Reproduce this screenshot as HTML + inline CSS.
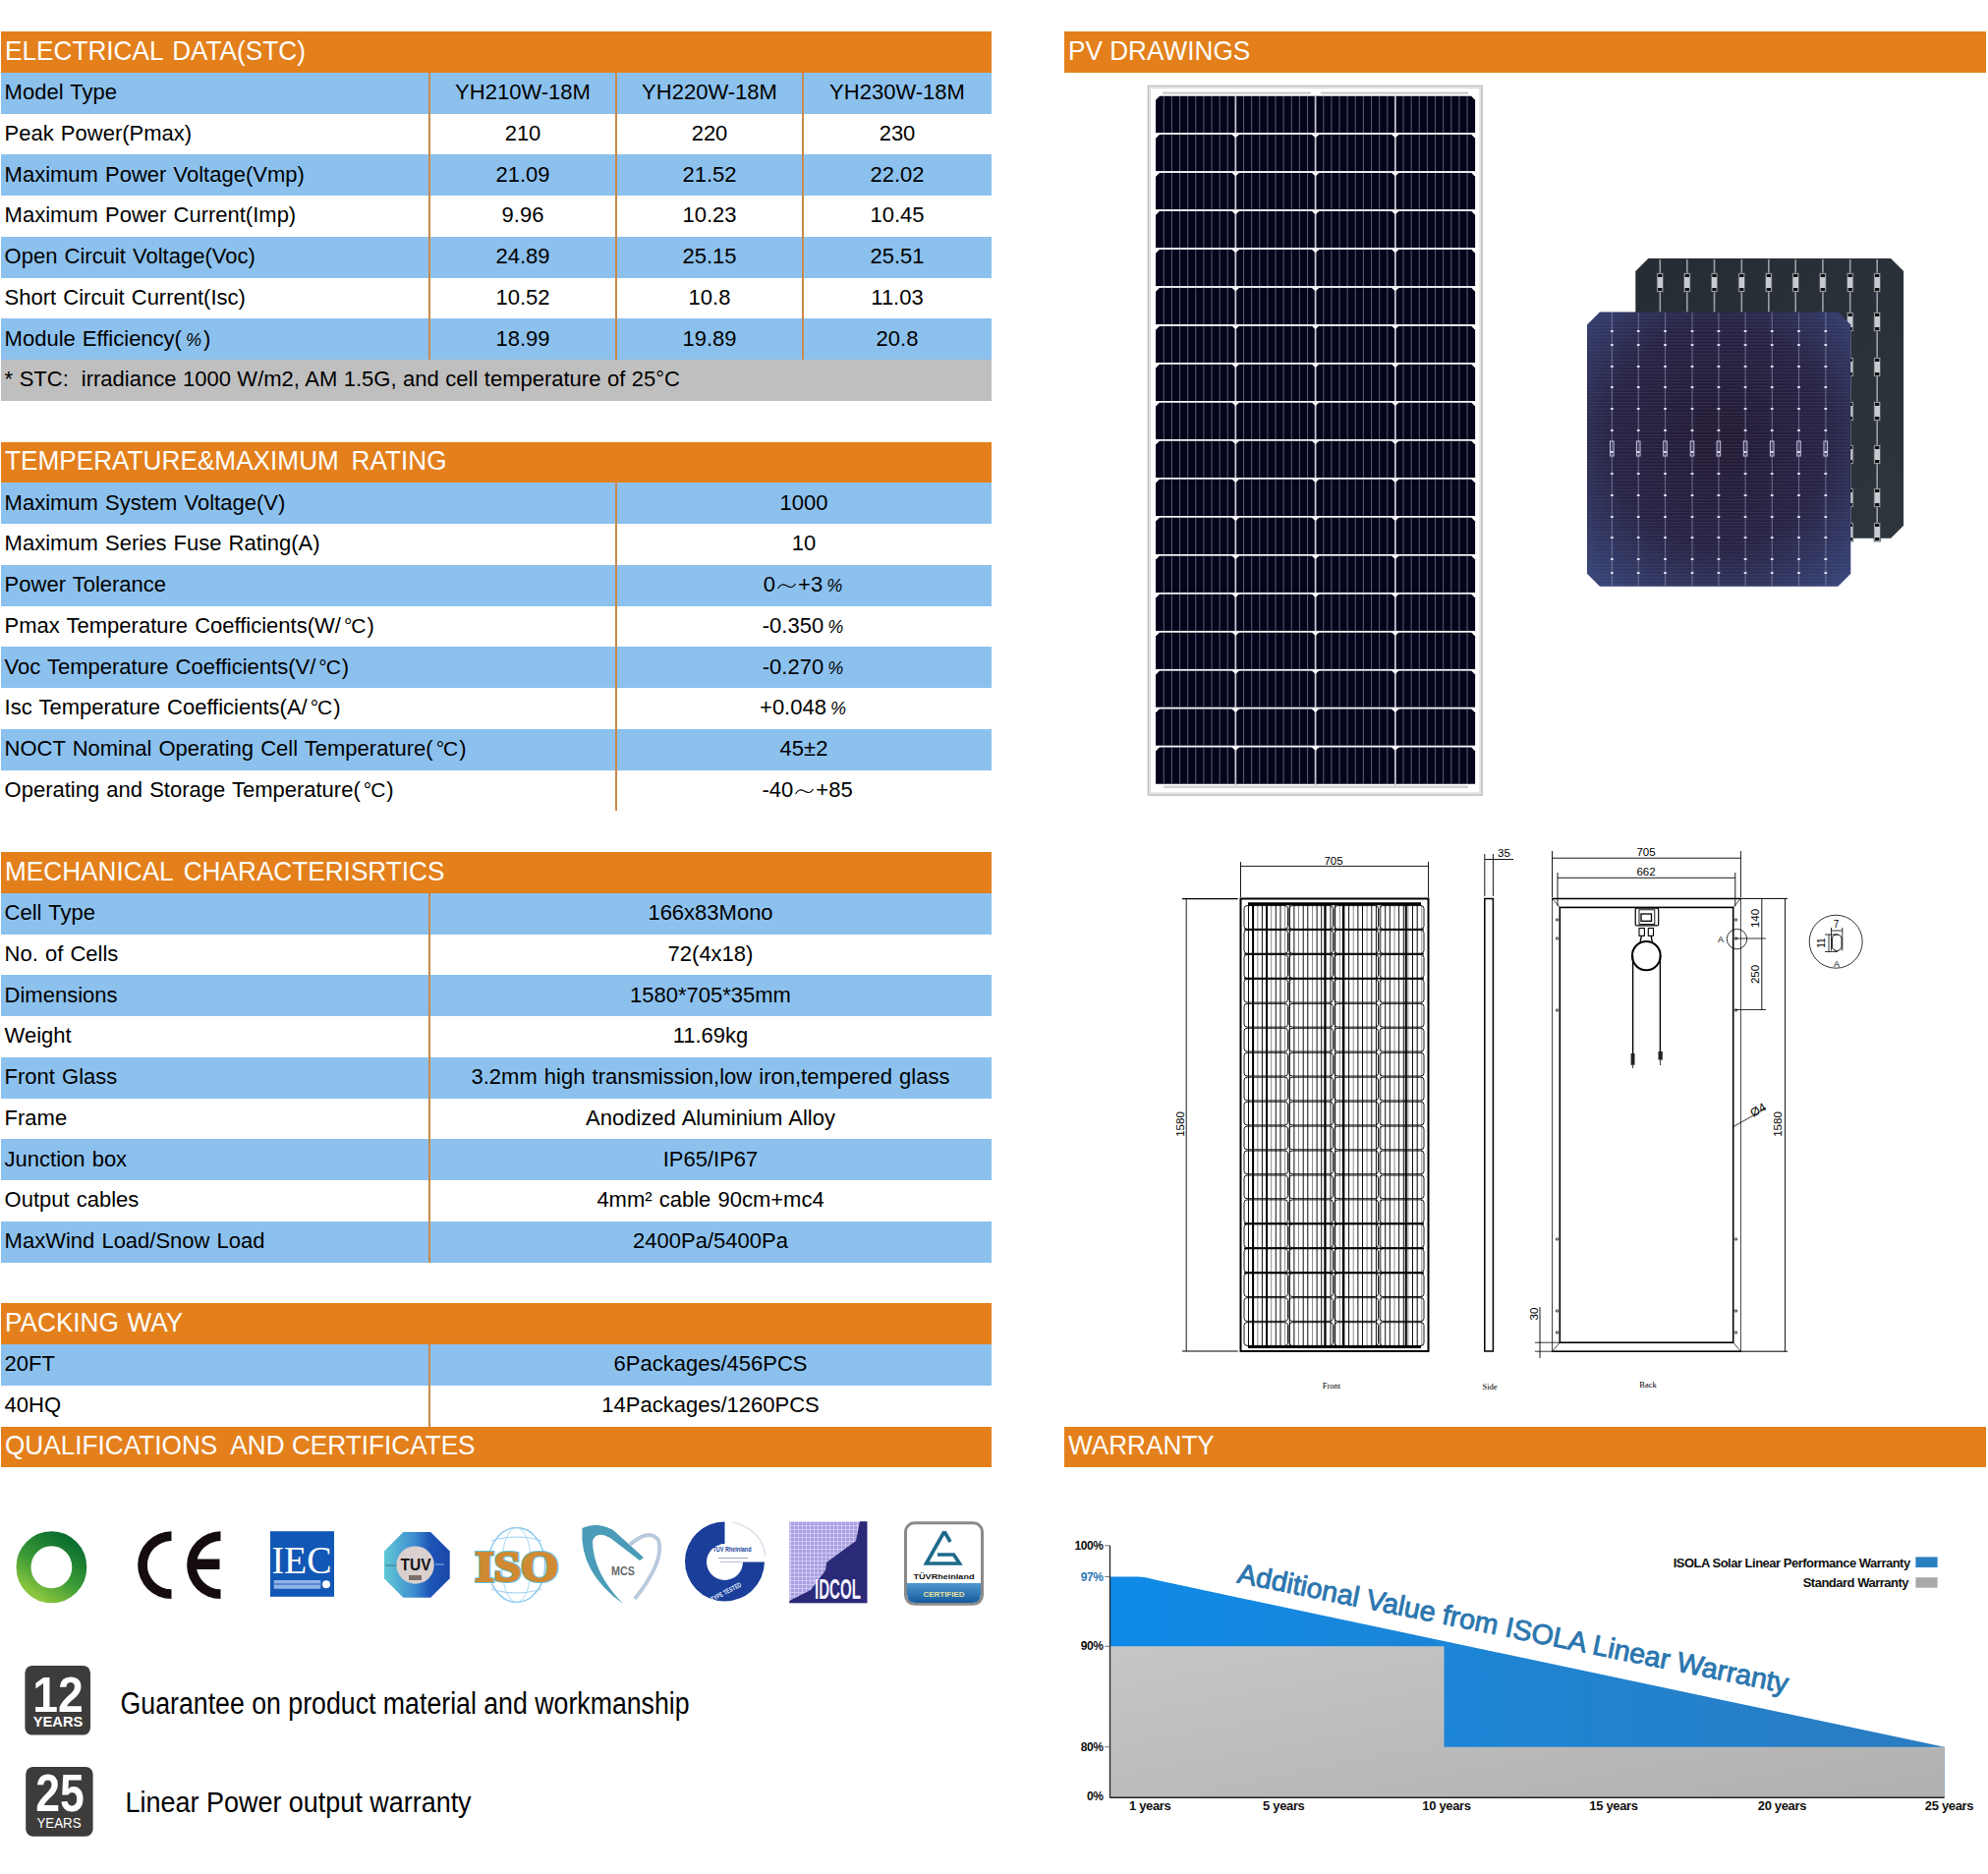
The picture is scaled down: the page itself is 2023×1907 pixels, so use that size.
<!DOCTYPE html>
<html><head><meta charset="utf-8"><title>Datasheet</title>
<style>
html,body{margin:0;padding:0;background:#fff;}
body{width:2023px;height:1907px;position:relative;overflow:hidden;font-family:"Liberation Sans",sans-serif;}
.r{position:absolute;}
.h{position:absolute;font-size:28px;line-height:41.75px;color:#fff;white-space:pre;transform:scaleX(0.935);transform-origin:0 0;}
.t{position:absolute;font-size:22px;line-height:41.75px;color:#000;white-space:pre;word-spacing:1px;}
.c{text-align:center;}
.pc{font-size:18px;font-style:italic;padding:0 3px 0 4px;letter-spacing:-1px;}
.dc{font-size:21px;padding:0 2px 0 3px;letter-spacing:-1px;}
.tl{font-size:20px;}
svg{position:absolute;}
svg.wv{position:static;vertical-align:1px;margin:0 1px;}
</style></head><body>
<div class="r" style="left:1.00px;top:32.00px;width:1008.00px;height:41.75px;background:#e3801c"></div>
<div class="h" style="left:4.60px;top:30.60px;word-spacing:2.5px">ELECTRICAL DATA(STC)</div>
<div class="r" style="left:1.00px;top:73.75px;width:1008.00px;height:41.75px;background:#8cc1ee"></div>
<div class="t" style="left:4.60px;top:73.05px">Model Type</div>
<div class="t c" style="left:437.00px;top:73.05px;width:190.00px">YH210W-18M</div>
<div class="t c" style="left:627.00px;top:73.05px;width:190.00px">YH220W-18M</div>
<div class="t c" style="left:817.00px;top:73.05px;width:192.00px">YH230W-18M</div>
<div class="t" style="left:4.60px;top:114.80px">Peak Power(Pmax)</div>
<div class="t c" style="left:437.00px;top:114.80px;width:190.00px">210</div>
<div class="t c" style="left:627.00px;top:114.80px;width:190.00px">220</div>
<div class="t c" style="left:817.00px;top:114.80px;width:192.00px">230</div>
<div class="r" style="left:1.00px;top:157.25px;width:1008.00px;height:41.75px;background:#8cc1ee"></div>
<div class="t" style="left:4.60px;top:156.55px">Maximum Power Voltage(Vmp)</div>
<div class="t c" style="left:437.00px;top:156.55px;width:190.00px">21.09</div>
<div class="t c" style="left:627.00px;top:156.55px;width:190.00px">21.52</div>
<div class="t c" style="left:817.00px;top:156.55px;width:192.00px">22.02</div>
<div class="t" style="left:4.60px;top:198.30px">Maximum Power Current(Imp)</div>
<div class="t c" style="left:437.00px;top:198.30px;width:190.00px">9.96</div>
<div class="t c" style="left:627.00px;top:198.30px;width:190.00px">10.23</div>
<div class="t c" style="left:817.00px;top:198.30px;width:192.00px">10.45</div>
<div class="r" style="left:1.00px;top:240.75px;width:1008.00px;height:41.75px;background:#8cc1ee"></div>
<div class="t" style="left:4.60px;top:240.05px">Open Circuit Voltage(Voc)</div>
<div class="t c" style="left:437.00px;top:240.05px;width:190.00px">24.89</div>
<div class="t c" style="left:627.00px;top:240.05px;width:190.00px">25.15</div>
<div class="t c" style="left:817.00px;top:240.05px;width:192.00px">25.51</div>
<div class="t" style="left:4.60px;top:281.80px">Short Circuit Current(Isc)</div>
<div class="t c" style="left:437.00px;top:281.80px;width:190.00px">10.52</div>
<div class="t c" style="left:627.00px;top:281.80px;width:190.00px">10.8</div>
<div class="t c" style="left:817.00px;top:281.80px;width:192.00px">11.03</div>
<div class="r" style="left:1.00px;top:324.25px;width:1008.00px;height:41.75px;background:#8cc1ee"></div>
<div class="t" style="left:4.60px;top:323.55px">Module Efficiency(<span class="pc">%</span>)</div>
<div class="t c" style="left:437.00px;top:323.55px;width:190.00px">18.99</div>
<div class="t c" style="left:627.00px;top:323.55px;width:190.00px">19.89</div>
<div class="t c" style="left:817.00px;top:323.55px;width:192.00px">20.8</div>
<div class="r" style="left:1.00px;top:366.00px;width:1008.00px;height:41.75px;background:#bfbfbf"></div>
<div class="t" style="left:4.60px;top:365.30px"><span style="word-spacing:0.4px">* STC:&nbsp; irradiance 1000 W/m2, AM 1.5G, and cell temperature of 25°C</span></div>
<div class="r" style="left:436.00px;top:73.75px;width:2px;height:292.25px;background:#c68a4a"></div>
<div class="r" style="left:626.00px;top:73.75px;width:2px;height:292.25px;background:#c68a4a"></div>
<div class="r" style="left:816.00px;top:73.75px;width:2px;height:292.25px;background:#c68a4a"></div>
<div class="r" style="left:1.00px;top:449.50px;width:1008.00px;height:41.75px;background:#e3801c"></div>
<div class="h" style="left:4.60px;top:448.10px;word-spacing:-1px">TEMPERATURE&amp;MAXIMUM&nbsp; RATING</div>
<div class="r" style="left:1.00px;top:491.25px;width:1008.00px;height:41.75px;background:#8cc1ee"></div>
<div class="t" style="left:4.60px;top:490.55px">Maximum System Voltage(V)</div>
<div class="t c" style="left:627.00px;top:490.55px;width:382.00px">1000</div>
<div class="t" style="left:4.60px;top:532.30px">Maximum Series Fuse Rating(A)</div>
<div class="t c" style="left:627.00px;top:532.30px;width:382.00px">10</div>
<div class="r" style="left:1.00px;top:574.75px;width:1008.00px;height:41.75px;background:#8cc1ee"></div>
<div class="t" style="left:4.60px;top:574.05px">Power Tolerance</div>
<div class="t c" style="left:627.00px;top:574.05px;width:382.00px">0<svg class="wv" width="21" height="10" viewBox="0 0 21 10"><path d="M1.5 8 C4 3.5 7 3 10.5 5 S17 7.5 19.5 3" fill="none" stroke="#000" stroke-width="1.1"/></svg>+3<span class="pc">%</span></div>
<div class="t" style="left:4.60px;top:615.80px">Pmax Temperature Coefficients(W/<span class="dc">°C</span>)</div>
<div class="t c" style="left:627.00px;top:615.80px;width:382.00px">-0.350<span class="pc">%</span></div>
<div class="r" style="left:1.00px;top:658.25px;width:1008.00px;height:41.75px;background:#8cc1ee"></div>
<div class="t" style="left:4.60px;top:657.55px">Voc Temperature Coefficients(V/<span class="dc">°C</span>)</div>
<div class="t c" style="left:627.00px;top:657.55px;width:382.00px">-0.270<span class="pc">%</span></div>
<div class="t" style="left:4.60px;top:699.30px">Isc Temperature Coefficients(A/<span class="dc">°C</span>)</div>
<div class="t c" style="left:627.00px;top:699.30px;width:382.00px">+0.048<span class="pc">%</span></div>
<div class="r" style="left:1.00px;top:741.75px;width:1008.00px;height:41.75px;background:#8cc1ee"></div>
<div class="t" style="left:4.60px;top:741.05px">NOCT Nominal Operating Cell Temperature(<span class="dc">°C</span>)</div>
<div class="t c" style="left:627.00px;top:741.05px;width:382.00px">45±2</div>
<div class="t" style="left:4.60px;top:782.80px">Operating and Storage Temperature(<span class="dc">°C</span>)</div>
<div class="t c" style="left:627.00px;top:782.80px;width:382.00px">&nbsp;-40<svg class="wv" width="21" height="10" viewBox="0 0 21 10"><path d="M1.5 8 C4 3.5 7 3 10.5 5 S17 7.5 19.5 3" fill="none" stroke="#000" stroke-width="1.1"/></svg>+85</div>
<div class="r" style="left:626.00px;top:491.25px;width:2px;height:334.00px;background:#c68a4a"></div>
<div class="r" style="left:1.00px;top:867.00px;width:1008.00px;height:41.75px;background:#e3801c"></div>
<div class="h" style="left:4.60px;top:865.60px;word-spacing:4px">MECHANICAL CHARACTERISRTICS</div>
<div class="r" style="left:1.00px;top:908.75px;width:1008.00px;height:41.75px;background:#8cc1ee"></div>
<div class="t" style="left:4.60px;top:908.05px">Cell Type</div>
<div class="t c" style="left:437.00px;top:908.05px;width:572.00px">166x83Mono</div>
<div class="t" style="left:4.60px;top:949.80px">No. of Cells</div>
<div class="t c" style="left:437.00px;top:949.80px;width:572.00px">72(4x18)</div>
<div class="r" style="left:1.00px;top:992.25px;width:1008.00px;height:41.75px;background:#8cc1ee"></div>
<div class="t" style="left:4.60px;top:991.55px">Dimensions</div>
<div class="t c" style="left:437.00px;top:991.55px;width:572.00px">1580*705*35mm</div>
<div class="t" style="left:4.60px;top:1033.30px">Weight</div>
<div class="t c" style="left:437.00px;top:1033.30px;width:572.00px">11.69kg</div>
<div class="r" style="left:1.00px;top:1075.75px;width:1008.00px;height:41.75px;background:#8cc1ee"></div>
<div class="t" style="left:4.60px;top:1075.05px">Front Glass</div>
<div class="t c" style="left:437.00px;top:1075.05px;width:572.00px">3.2mm high transmission,low iron,tempered glass</div>
<div class="t" style="left:4.60px;top:1116.80px">Frame</div>
<div class="t c" style="left:437.00px;top:1116.80px;width:572.00px">Anodized Aluminium Alloy</div>
<div class="r" style="left:1.00px;top:1159.25px;width:1008.00px;height:41.75px;background:#8cc1ee"></div>
<div class="t" style="left:4.60px;top:1158.55px">Junction box</div>
<div class="t c" style="left:437.00px;top:1158.55px;width:572.00px">IP65/IP67</div>
<div class="t" style="left:4.60px;top:1200.30px">Output cables</div>
<div class="t c" style="left:437.00px;top:1200.30px;width:572.00px">4mm² cable 90cm+mc4</div>
<div class="r" style="left:1.00px;top:1242.75px;width:1008.00px;height:41.75px;background:#8cc1ee"></div>
<div class="t" style="left:4.60px;top:1242.05px">MaxWind Load/Snow Load</div>
<div class="t c" style="left:437.00px;top:1242.05px;width:572.00px">2400Pa/5400Pa</div>
<div class="r" style="left:436.00px;top:908.75px;width:2px;height:375.75px;background:#c68a4a"></div>
<div class="r" style="left:1.00px;top:1326.25px;width:1008.00px;height:41.75px;background:#e3801c"></div>
<div class="h" style="left:4.60px;top:1324.85px;word-spacing:1.5px">PACKING WAY</div>
<div class="r" style="left:1.00px;top:1368.00px;width:1008.00px;height:41.75px;background:#8cc1ee"></div>
<div class="t" style="left:4.60px;top:1367.30px">20FT</div>
<div class="t c" style="left:437.00px;top:1367.30px;width:572.00px">6Packages/456PCS</div>
<div class="t" style="left:4.60px;top:1409.05px">40HQ</div>
<div class="t c" style="left:437.00px;top:1409.05px;width:572.00px">14Packages/1260PCS</div>
<div class="r" style="left:436.00px;top:1368.00px;width:2px;height:83.50px;background:#c68a4a"></div>
<div class="r" style="left:1.00px;top:1451.50px;width:1008.00px;height:41.75px;background:#e3801c"></div>
<div class="h" style="left:4.60px;top:1450.10px;word-spacing:0px">QUALIFICATIONS&nbsp; AND CERTIFICATES</div>
<div class="r" style="left:1083.00px;top:32.00px;width:938.00px;height:41.75px;background:#e3801c"></div>
<div class="h" style="left:1086.60px;top:30.60px;word-spacing:0px">PV DRAWINGS</div>
<div class="r" style="left:1083.00px;top:1451.50px;width:938.00px;height:41.75px;background:#e3801c"></div>
<div class="h" style="left:1086.60px;top:1450.10px;word-spacing:0px">WARRANTY</div>
<svg style="left:0;top:0" width="2023" height="1907" viewBox="0 0 2023 1907"><rect x="1168.5" y="87.5" width="339.5" height="721.5" fill="#fff" stroke="#bdbdbd" stroke-width="1.6"/><rect x="1170.4" y="89.5" width="335.7" height="717.5" fill="none" stroke="#d6d6d6" stroke-width="1.2"/><rect x="1183" y="93.5" width="151" height="2.5" fill="#cfcfcf"/><rect x="1344" y="93.5" width="150" height="2.5" fill="#cfcfcf"/><rect x="1184" y="799.5" width="310" height="2.5" fill="#d2d2d2"/><defs><g id="prow"><path d="M0 37.47 V4 L4 0 H321.00 L325.00 4 V37.47 Z" fill="#03031a"/><rect x="7.62" y="0" width="1.1" height="37.47" fill="#56566e"/><rect x="15.75" y="0" width="1.1" height="37.47" fill="#56566e"/><rect x="23.88" y="0" width="1.1" height="37.47" fill="#56566e"/><rect x="32.00" y="0" width="1.1" height="37.47" fill="#56566e"/><rect x="40.12" y="0" width="1.1" height="37.47" fill="#56566e"/><rect x="48.25" y="0" width="1.1" height="37.47" fill="#56566e"/><rect x="56.38" y="0" width="1.1" height="37.47" fill="#56566e"/><rect x="64.50" y="0" width="1.1" height="37.47" fill="#56566e"/><rect x="72.62" y="0" width="1.1" height="37.47" fill="#56566e"/><rect x="88.88" y="0" width="1.1" height="37.47" fill="#56566e"/><rect x="97.00" y="0" width="1.1" height="37.47" fill="#56566e"/><rect x="105.12" y="0" width="1.1" height="37.47" fill="#56566e"/><rect x="113.25" y="0" width="1.1" height="37.47" fill="#56566e"/><rect x="121.38" y="0" width="1.1" height="37.47" fill="#56566e"/><rect x="129.50" y="0" width="1.1" height="37.47" fill="#56566e"/><rect x="137.62" y="0" width="1.1" height="37.47" fill="#56566e"/><rect x="145.75" y="0" width="1.1" height="37.47" fill="#56566e"/><rect x="153.88" y="0" width="1.1" height="37.47" fill="#56566e"/><rect x="170.12" y="0" width="1.1" height="37.47" fill="#56566e"/><rect x="178.25" y="0" width="1.1" height="37.47" fill="#56566e"/><rect x="186.38" y="0" width="1.1" height="37.47" fill="#56566e"/><rect x="194.50" y="0" width="1.1" height="37.47" fill="#56566e"/><rect x="202.62" y="0" width="1.1" height="37.47" fill="#56566e"/><rect x="210.75" y="0" width="1.1" height="37.47" fill="#56566e"/><rect x="218.88" y="0" width="1.1" height="37.47" fill="#56566e"/><rect x="227.00" y="0" width="1.1" height="37.47" fill="#56566e"/><rect x="235.12" y="0" width="1.1" height="37.47" fill="#56566e"/><rect x="251.38" y="0" width="1.1" height="37.47" fill="#56566e"/><rect x="259.50" y="0" width="1.1" height="37.47" fill="#56566e"/><rect x="267.62" y="0" width="1.1" height="37.47" fill="#56566e"/><rect x="275.75" y="0" width="1.1" height="37.47" fill="#56566e"/><rect x="283.88" y="0" width="1.1" height="37.47" fill="#56566e"/><rect x="292.00" y="0" width="1.1" height="37.47" fill="#56566e"/><rect x="300.12" y="0" width="1.1" height="37.47" fill="#56566e"/><rect x="308.25" y="0" width="1.1" height="37.47" fill="#56566e"/><rect x="316.38" y="0" width="1.1" height="37.47" fill="#56566e"/><rect x="80.35" y="0" width="1.8" height="38.97" fill="#c4c4d0"/><rect x="161.60" y="0" width="1.8" height="38.97" fill="#c4c4d0"/><rect x="242.85" y="0" width="1.8" height="38.97" fill="#c4c4d0"/></g></defs><use href="#prow" x="1176.10" y="97.80"/><use href="#prow" x="1176.10" y="136.77"/><use href="#prow" x="1176.10" y="175.74"/><use href="#prow" x="1176.10" y="214.72"/><use href="#prow" x="1176.10" y="253.69"/><use href="#prow" x="1176.10" y="292.66"/><use href="#prow" x="1176.10" y="331.63"/><use href="#prow" x="1176.10" y="370.61"/><use href="#prow" x="1176.10" y="409.58"/><use href="#prow" x="1176.10" y="448.55"/><use href="#prow" x="1176.10" y="487.52"/><use href="#prow" x="1176.10" y="526.49"/><use href="#prow" x="1176.10" y="565.47"/><use href="#prow" x="1176.10" y="604.44"/><use href="#prow" x="1176.10" y="643.41"/><use href="#prow" x="1176.10" y="682.38"/><use href="#prow" x="1176.10" y="721.36"/><use href="#prow" x="1176.10" y="760.33"/><rect x="1176.1" y="135.27" width="325.0" height="1.5" fill="#f4f4f8"/><path d="M1253.1 136.5 L1261.5 136.5 L1257.3 140.3 Z" fill="#fff"/><path d="M1334.4 136.5 L1342.8 136.5 L1338.6 140.3 Z" fill="#fff"/><path d="M1415.6 136.5 L1424.0 136.5 L1419.8 140.3 Z" fill="#fff"/><rect x="1176.1" y="174.24" width="325.0" height="1.5" fill="#f4f4f8"/><path d="M1253.1 175.4 L1261.5 175.4 L1257.3 179.2 Z" fill="#fff"/><path d="M1334.4 175.4 L1342.8 175.4 L1338.6 179.2 Z" fill="#fff"/><path d="M1415.6 175.4 L1424.0 175.4 L1419.8 179.2 Z" fill="#fff"/><rect x="1176.1" y="213.22" width="325.0" height="1.5" fill="#f4f4f8"/><path d="M1253.1 214.4 L1261.5 214.4 L1257.3 218.2 Z" fill="#fff"/><path d="M1334.4 214.4 L1342.8 214.4 L1338.6 218.2 Z" fill="#fff"/><path d="M1415.6 214.4 L1424.0 214.4 L1419.8 218.2 Z" fill="#fff"/><rect x="1176.1" y="252.19" width="325.0" height="1.5" fill="#f4f4f8"/><path d="M1253.1 253.4 L1261.5 253.4 L1257.3 257.2 Z" fill="#fff"/><path d="M1334.4 253.4 L1342.8 253.4 L1338.6 257.2 Z" fill="#fff"/><path d="M1415.6 253.4 L1424.0 253.4 L1419.8 257.2 Z" fill="#fff"/><rect x="1176.1" y="291.16" width="325.0" height="1.5" fill="#f4f4f8"/><path d="M1253.1 292.4 L1261.5 292.4 L1257.3 296.2 Z" fill="#fff"/><path d="M1334.4 292.4 L1342.8 292.4 L1338.6 296.2 Z" fill="#fff"/><path d="M1415.6 292.4 L1424.0 292.4 L1419.8 296.2 Z" fill="#fff"/><rect x="1176.1" y="330.13" width="325.0" height="1.5" fill="#f4f4f8"/><path d="M1253.1 331.3 L1261.5 331.3 L1257.3 335.1 Z" fill="#fff"/><path d="M1334.4 331.3 L1342.8 331.3 L1338.6 335.1 Z" fill="#fff"/><path d="M1415.6 331.3 L1424.0 331.3 L1419.8 335.1 Z" fill="#fff"/><rect x="1176.1" y="369.11" width="325.0" height="1.5" fill="#f4f4f8"/><path d="M1253.1 370.3 L1261.5 370.3 L1257.3 374.1 Z" fill="#fff"/><path d="M1334.4 370.3 L1342.8 370.3 L1338.6 374.1 Z" fill="#fff"/><path d="M1415.6 370.3 L1424.0 370.3 L1419.8 374.1 Z" fill="#fff"/><rect x="1176.1" y="408.08" width="325.0" height="1.5" fill="#f4f4f8"/><path d="M1253.1 409.3 L1261.5 409.3 L1257.3 413.1 Z" fill="#fff"/><path d="M1334.4 409.3 L1342.8 409.3 L1338.6 413.1 Z" fill="#fff"/><path d="M1415.6 409.3 L1424.0 409.3 L1419.8 413.1 Z" fill="#fff"/><rect x="1176.1" y="447.05" width="325.0" height="1.5" fill="#f4f4f8"/><path d="M1253.1 448.2 L1261.5 448.2 L1257.3 452.1 Z" fill="#fff"/><path d="M1334.4 448.2 L1342.8 448.2 L1338.6 452.1 Z" fill="#fff"/><path d="M1415.6 448.2 L1424.0 448.2 L1419.8 452.1 Z" fill="#fff"/><rect x="1176.1" y="486.02" width="325.0" height="1.5" fill="#f4f4f8"/><path d="M1253.1 487.2 L1261.5 487.2 L1257.3 491.0 Z" fill="#fff"/><path d="M1334.4 487.2 L1342.8 487.2 L1338.6 491.0 Z" fill="#fff"/><path d="M1415.6 487.2 L1424.0 487.2 L1419.8 491.0 Z" fill="#fff"/><rect x="1176.1" y="524.99" width="325.0" height="1.5" fill="#f4f4f8"/><path d="M1253.1 526.2 L1261.5 526.2 L1257.3 530.0 Z" fill="#fff"/><path d="M1334.4 526.2 L1342.8 526.2 L1338.6 530.0 Z" fill="#fff"/><path d="M1415.6 526.2 L1424.0 526.2 L1419.8 530.0 Z" fill="#fff"/><rect x="1176.1" y="563.97" width="325.0" height="1.5" fill="#f4f4f8"/><path d="M1253.1 565.2 L1261.5 565.2 L1257.3 569.0 Z" fill="#fff"/><path d="M1334.4 565.2 L1342.8 565.2 L1338.6 569.0 Z" fill="#fff"/><path d="M1415.6 565.2 L1424.0 565.2 L1419.8 569.0 Z" fill="#fff"/><rect x="1176.1" y="602.94" width="325.0" height="1.5" fill="#f4f4f8"/><path d="M1253.1 604.1 L1261.5 604.1 L1257.3 607.9 Z" fill="#fff"/><path d="M1334.4 604.1 L1342.8 604.1 L1338.6 607.9 Z" fill="#fff"/><path d="M1415.6 604.1 L1424.0 604.1 L1419.8 607.9 Z" fill="#fff"/><rect x="1176.1" y="641.91" width="325.0" height="1.5" fill="#f4f4f8"/><path d="M1253.1 643.1 L1261.5 643.1 L1257.3 646.9 Z" fill="#fff"/><path d="M1334.4 643.1 L1342.8 643.1 L1338.6 646.9 Z" fill="#fff"/><path d="M1415.6 643.1 L1424.0 643.1 L1419.8 646.9 Z" fill="#fff"/><rect x="1176.1" y="680.88" width="325.0" height="1.5" fill="#f4f4f8"/><path d="M1253.1 682.1 L1261.5 682.1 L1257.3 685.9 Z" fill="#fff"/><path d="M1334.4 682.1 L1342.8 682.1 L1338.6 685.9 Z" fill="#fff"/><path d="M1415.6 682.1 L1424.0 682.1 L1419.8 685.9 Z" fill="#fff"/><rect x="1176.1" y="719.86" width="325.0" height="1.5" fill="#f4f4f8"/><path d="M1253.1 721.1 L1261.5 721.1 L1257.3 724.9 Z" fill="#fff"/><path d="M1334.4 721.1 L1342.8 721.1 L1338.6 724.9 Z" fill="#fff"/><path d="M1415.6 721.1 L1424.0 721.1 L1419.8 724.9 Z" fill="#fff"/><rect x="1176.1" y="758.83" width="325.0" height="1.5" fill="#f4f4f8"/><path d="M1253.1 760.0 L1261.5 760.0 L1257.3 763.8 Z" fill="#fff"/><path d="M1334.4 760.0 L1342.8 760.0 L1338.6 763.8 Z" fill="#fff"/><path d="M1415.6 760.0 L1424.0 760.0 L1419.8 763.8 Z" fill="#fff"/></svg>
<svg style="left:0;top:0" width="2023" height="1907" viewBox="0 0 2023 1907"><defs><radialGradient id="fg" cx="0.5" cy="0.45" r="0.75"><stop offset="0" stop-color="#231a33"/><stop offset="0.55" stop-color="#282445"/><stop offset="1" stop-color="#3a4a80"/></radialGradient><linearGradient id="bg2" x1="0" y1="0" x2="1" y2="1"><stop offset="0" stop-color="#262c33"/><stop offset="1" stop-color="#2e353d"/></linearGradient></defs><path d="M1677.3 263 H1924.1 L1937.1 276 V534.7 L1924.1 547.7 H1677.3 L1664.3 534.7 V276 Z" fill="url(#bg2)"/><rect x="1688.5" y="264" width="1.6" height="283" fill="#9aa0a6"/><rect x="1686.1" y="278" width="6.4" height="19" fill="#c8cbd0" stroke="#505860" stroke-width="0.8"/><rect x="1687.1" y="279" width="4.4" height="3" fill="#111"/><rect x="1687.1" y="293" width="4.4" height="3" fill="#111"/><rect x="1686.1" y="318" width="6.4" height="19" fill="#c8cbd0" stroke="#505860" stroke-width="0.8"/><rect x="1687.1" y="319" width="4.4" height="3" fill="#111"/><rect x="1687.1" y="333" width="4.4" height="3" fill="#111"/><rect x="1686.1" y="364" width="6.4" height="19" fill="#c8cbd0" stroke="#505860" stroke-width="0.8"/><rect x="1687.1" y="365" width="4.4" height="3" fill="#111"/><rect x="1687.1" y="379" width="4.4" height="3" fill="#111"/><rect x="1686.1" y="409" width="6.4" height="19" fill="#c8cbd0" stroke="#505860" stroke-width="0.8"/><rect x="1687.1" y="410" width="4.4" height="3" fill="#111"/><rect x="1687.1" y="424" width="4.4" height="3" fill="#111"/><rect x="1686.1" y="453" width="6.4" height="19" fill="#c8cbd0" stroke="#505860" stroke-width="0.8"/><rect x="1687.1" y="454" width="4.4" height="3" fill="#111"/><rect x="1687.1" y="468" width="4.4" height="3" fill="#111"/><rect x="1686.1" y="497" width="6.4" height="19" fill="#c8cbd0" stroke="#505860" stroke-width="0.8"/><rect x="1687.1" y="498" width="4.4" height="3" fill="#111"/><rect x="1687.1" y="512" width="4.4" height="3" fill="#111"/><rect x="1686.1" y="532" width="6.4" height="19" fill="#c8cbd0" stroke="#505860" stroke-width="0.8"/><rect x="1687.1" y="533" width="4.4" height="3" fill="#111"/><rect x="1687.1" y="547" width="4.4" height="3" fill="#111"/><rect x="1716.0" y="264" width="1.6" height="283" fill="#9aa0a6"/><rect x="1713.6" y="278" width="6.4" height="19" fill="#c8cbd0" stroke="#505860" stroke-width="0.8"/><rect x="1714.6" y="279" width="4.4" height="3" fill="#111"/><rect x="1714.6" y="293" width="4.4" height="3" fill="#111"/><rect x="1713.6" y="318" width="6.4" height="19" fill="#c8cbd0" stroke="#505860" stroke-width="0.8"/><rect x="1714.6" y="319" width="4.4" height="3" fill="#111"/><rect x="1714.6" y="333" width="4.4" height="3" fill="#111"/><rect x="1713.6" y="364" width="6.4" height="19" fill="#c8cbd0" stroke="#505860" stroke-width="0.8"/><rect x="1714.6" y="365" width="4.4" height="3" fill="#111"/><rect x="1714.6" y="379" width="4.4" height="3" fill="#111"/><rect x="1713.6" y="409" width="6.4" height="19" fill="#c8cbd0" stroke="#505860" stroke-width="0.8"/><rect x="1714.6" y="410" width="4.4" height="3" fill="#111"/><rect x="1714.6" y="424" width="4.4" height="3" fill="#111"/><rect x="1713.6" y="453" width="6.4" height="19" fill="#c8cbd0" stroke="#505860" stroke-width="0.8"/><rect x="1714.6" y="454" width="4.4" height="3" fill="#111"/><rect x="1714.6" y="468" width="4.4" height="3" fill="#111"/><rect x="1713.6" y="497" width="6.4" height="19" fill="#c8cbd0" stroke="#505860" stroke-width="0.8"/><rect x="1714.6" y="498" width="4.4" height="3" fill="#111"/><rect x="1714.6" y="512" width="4.4" height="3" fill="#111"/><rect x="1713.6" y="532" width="6.4" height="19" fill="#c8cbd0" stroke="#505860" stroke-width="0.8"/><rect x="1714.6" y="533" width="4.4" height="3" fill="#111"/><rect x="1714.6" y="547" width="4.4" height="3" fill="#111"/><rect x="1743.7" y="264" width="1.6" height="283" fill="#9aa0a6"/><rect x="1741.3" y="278" width="6.4" height="19" fill="#c8cbd0" stroke="#505860" stroke-width="0.8"/><rect x="1742.3" y="279" width="4.4" height="3" fill="#111"/><rect x="1742.3" y="293" width="4.4" height="3" fill="#111"/><rect x="1741.3" y="318" width="6.4" height="19" fill="#c8cbd0" stroke="#505860" stroke-width="0.8"/><rect x="1742.3" y="319" width="4.4" height="3" fill="#111"/><rect x="1742.3" y="333" width="4.4" height="3" fill="#111"/><rect x="1741.3" y="364" width="6.4" height="19" fill="#c8cbd0" stroke="#505860" stroke-width="0.8"/><rect x="1742.3" y="365" width="4.4" height="3" fill="#111"/><rect x="1742.3" y="379" width="4.4" height="3" fill="#111"/><rect x="1741.3" y="409" width="6.4" height="19" fill="#c8cbd0" stroke="#505860" stroke-width="0.8"/><rect x="1742.3" y="410" width="4.4" height="3" fill="#111"/><rect x="1742.3" y="424" width="4.4" height="3" fill="#111"/><rect x="1741.3" y="453" width="6.4" height="19" fill="#c8cbd0" stroke="#505860" stroke-width="0.8"/><rect x="1742.3" y="454" width="4.4" height="3" fill="#111"/><rect x="1742.3" y="468" width="4.4" height="3" fill="#111"/><rect x="1741.3" y="497" width="6.4" height="19" fill="#c8cbd0" stroke="#505860" stroke-width="0.8"/><rect x="1742.3" y="498" width="4.4" height="3" fill="#111"/><rect x="1742.3" y="512" width="4.4" height="3" fill="#111"/><rect x="1741.3" y="532" width="6.4" height="19" fill="#c8cbd0" stroke="#505860" stroke-width="0.8"/><rect x="1742.3" y="533" width="4.4" height="3" fill="#111"/><rect x="1742.3" y="547" width="4.4" height="3" fill="#111"/><rect x="1771.5" y="264" width="1.6" height="283" fill="#9aa0a6"/><rect x="1769.1" y="278" width="6.4" height="19" fill="#c8cbd0" stroke="#505860" stroke-width="0.8"/><rect x="1770.1" y="279" width="4.4" height="3" fill="#111"/><rect x="1770.1" y="293" width="4.4" height="3" fill="#111"/><rect x="1769.1" y="318" width="6.4" height="19" fill="#c8cbd0" stroke="#505860" stroke-width="0.8"/><rect x="1770.1" y="319" width="4.4" height="3" fill="#111"/><rect x="1770.1" y="333" width="4.4" height="3" fill="#111"/><rect x="1769.1" y="364" width="6.4" height="19" fill="#c8cbd0" stroke="#505860" stroke-width="0.8"/><rect x="1770.1" y="365" width="4.4" height="3" fill="#111"/><rect x="1770.1" y="379" width="4.4" height="3" fill="#111"/><rect x="1769.1" y="409" width="6.4" height="19" fill="#c8cbd0" stroke="#505860" stroke-width="0.8"/><rect x="1770.1" y="410" width="4.4" height="3" fill="#111"/><rect x="1770.1" y="424" width="4.4" height="3" fill="#111"/><rect x="1769.1" y="453" width="6.4" height="19" fill="#c8cbd0" stroke="#505860" stroke-width="0.8"/><rect x="1770.1" y="454" width="4.4" height="3" fill="#111"/><rect x="1770.1" y="468" width="4.4" height="3" fill="#111"/><rect x="1769.1" y="497" width="6.4" height="19" fill="#c8cbd0" stroke="#505860" stroke-width="0.8"/><rect x="1770.1" y="498" width="4.4" height="3" fill="#111"/><rect x="1770.1" y="512" width="4.4" height="3" fill="#111"/><rect x="1769.1" y="532" width="6.4" height="19" fill="#c8cbd0" stroke="#505860" stroke-width="0.8"/><rect x="1770.1" y="533" width="4.4" height="3" fill="#111"/><rect x="1770.1" y="547" width="4.4" height="3" fill="#111"/><rect x="1799.0" y="264" width="1.6" height="283" fill="#9aa0a6"/><rect x="1796.6" y="278" width="6.4" height="19" fill="#c8cbd0" stroke="#505860" stroke-width="0.8"/><rect x="1797.6" y="279" width="4.4" height="3" fill="#111"/><rect x="1797.6" y="293" width="4.4" height="3" fill="#111"/><rect x="1796.6" y="318" width="6.4" height="19" fill="#c8cbd0" stroke="#505860" stroke-width="0.8"/><rect x="1797.6" y="319" width="4.4" height="3" fill="#111"/><rect x="1797.6" y="333" width="4.4" height="3" fill="#111"/><rect x="1796.6" y="364" width="6.4" height="19" fill="#c8cbd0" stroke="#505860" stroke-width="0.8"/><rect x="1797.6" y="365" width="4.4" height="3" fill="#111"/><rect x="1797.6" y="379" width="4.4" height="3" fill="#111"/><rect x="1796.6" y="409" width="6.4" height="19" fill="#c8cbd0" stroke="#505860" stroke-width="0.8"/><rect x="1797.6" y="410" width="4.4" height="3" fill="#111"/><rect x="1797.6" y="424" width="4.4" height="3" fill="#111"/><rect x="1796.6" y="453" width="6.4" height="19" fill="#c8cbd0" stroke="#505860" stroke-width="0.8"/><rect x="1797.6" y="454" width="4.4" height="3" fill="#111"/><rect x="1797.6" y="468" width="4.4" height="3" fill="#111"/><rect x="1796.6" y="497" width="6.4" height="19" fill="#c8cbd0" stroke="#505860" stroke-width="0.8"/><rect x="1797.6" y="498" width="4.4" height="3" fill="#111"/><rect x="1797.6" y="512" width="4.4" height="3" fill="#111"/><rect x="1796.6" y="532" width="6.4" height="19" fill="#c8cbd0" stroke="#505860" stroke-width="0.8"/><rect x="1797.6" y="533" width="4.4" height="3" fill="#111"/><rect x="1797.6" y="547" width="4.4" height="3" fill="#111"/><rect x="1826.4" y="264" width="1.6" height="283" fill="#9aa0a6"/><rect x="1824.0" y="278" width="6.4" height="19" fill="#c8cbd0" stroke="#505860" stroke-width="0.8"/><rect x="1825.0" y="279" width="4.4" height="3" fill="#111"/><rect x="1825.0" y="293" width="4.4" height="3" fill="#111"/><rect x="1824.0" y="318" width="6.4" height="19" fill="#c8cbd0" stroke="#505860" stroke-width="0.8"/><rect x="1825.0" y="319" width="4.4" height="3" fill="#111"/><rect x="1825.0" y="333" width="4.4" height="3" fill="#111"/><rect x="1824.0" y="364" width="6.4" height="19" fill="#c8cbd0" stroke="#505860" stroke-width="0.8"/><rect x="1825.0" y="365" width="4.4" height="3" fill="#111"/><rect x="1825.0" y="379" width="4.4" height="3" fill="#111"/><rect x="1824.0" y="409" width="6.4" height="19" fill="#c8cbd0" stroke="#505860" stroke-width="0.8"/><rect x="1825.0" y="410" width="4.4" height="3" fill="#111"/><rect x="1825.0" y="424" width="4.4" height="3" fill="#111"/><rect x="1824.0" y="453" width="6.4" height="19" fill="#c8cbd0" stroke="#505860" stroke-width="0.8"/><rect x="1825.0" y="454" width="4.4" height="3" fill="#111"/><rect x="1825.0" y="468" width="4.4" height="3" fill="#111"/><rect x="1824.0" y="497" width="6.4" height="19" fill="#c8cbd0" stroke="#505860" stroke-width="0.8"/><rect x="1825.0" y="498" width="4.4" height="3" fill="#111"/><rect x="1825.0" y="512" width="4.4" height="3" fill="#111"/><rect x="1824.0" y="532" width="6.4" height="19" fill="#c8cbd0" stroke="#505860" stroke-width="0.8"/><rect x="1825.0" y="533" width="4.4" height="3" fill="#111"/><rect x="1825.0" y="547" width="4.4" height="3" fill="#111"/><rect x="1854.1000000000001" y="264" width="1.6" height="283" fill="#9aa0a6"/><rect x="1851.7" y="278" width="6.4" height="19" fill="#c8cbd0" stroke="#505860" stroke-width="0.8"/><rect x="1852.7" y="279" width="4.4" height="3" fill="#111"/><rect x="1852.7" y="293" width="4.4" height="3" fill="#111"/><rect x="1851.7" y="318" width="6.4" height="19" fill="#c8cbd0" stroke="#505860" stroke-width="0.8"/><rect x="1852.7" y="319" width="4.4" height="3" fill="#111"/><rect x="1852.7" y="333" width="4.4" height="3" fill="#111"/><rect x="1851.7" y="364" width="6.4" height="19" fill="#c8cbd0" stroke="#505860" stroke-width="0.8"/><rect x="1852.7" y="365" width="4.4" height="3" fill="#111"/><rect x="1852.7" y="379" width="4.4" height="3" fill="#111"/><rect x="1851.7" y="409" width="6.4" height="19" fill="#c8cbd0" stroke="#505860" stroke-width="0.8"/><rect x="1852.7" y="410" width="4.4" height="3" fill="#111"/><rect x="1852.7" y="424" width="4.4" height="3" fill="#111"/><rect x="1851.7" y="453" width="6.4" height="19" fill="#c8cbd0" stroke="#505860" stroke-width="0.8"/><rect x="1852.7" y="454" width="4.4" height="3" fill="#111"/><rect x="1852.7" y="468" width="4.4" height="3" fill="#111"/><rect x="1851.7" y="497" width="6.4" height="19" fill="#c8cbd0" stroke="#505860" stroke-width="0.8"/><rect x="1852.7" y="498" width="4.4" height="3" fill="#111"/><rect x="1852.7" y="512" width="4.4" height="3" fill="#111"/><rect x="1851.7" y="532" width="6.4" height="19" fill="#c8cbd0" stroke="#505860" stroke-width="0.8"/><rect x="1852.7" y="533" width="4.4" height="3" fill="#111"/><rect x="1852.7" y="547" width="4.4" height="3" fill="#111"/><rect x="1881.9" y="264" width="1.6" height="283" fill="#9aa0a6"/><rect x="1879.5" y="278" width="6.4" height="19" fill="#c8cbd0" stroke="#505860" stroke-width="0.8"/><rect x="1880.5" y="279" width="4.4" height="3" fill="#111"/><rect x="1880.5" y="293" width="4.4" height="3" fill="#111"/><rect x="1879.5" y="318" width="6.4" height="19" fill="#c8cbd0" stroke="#505860" stroke-width="0.8"/><rect x="1880.5" y="319" width="4.4" height="3" fill="#111"/><rect x="1880.5" y="333" width="4.4" height="3" fill="#111"/><rect x="1879.5" y="364" width="6.4" height="19" fill="#c8cbd0" stroke="#505860" stroke-width="0.8"/><rect x="1880.5" y="365" width="4.4" height="3" fill="#111"/><rect x="1880.5" y="379" width="4.4" height="3" fill="#111"/><rect x="1879.5" y="409" width="6.4" height="19" fill="#c8cbd0" stroke="#505860" stroke-width="0.8"/><rect x="1880.5" y="410" width="4.4" height="3" fill="#111"/><rect x="1880.5" y="424" width="4.4" height="3" fill="#111"/><rect x="1879.5" y="453" width="6.4" height="19" fill="#c8cbd0" stroke="#505860" stroke-width="0.8"/><rect x="1880.5" y="454" width="4.4" height="3" fill="#111"/><rect x="1880.5" y="468" width="4.4" height="3" fill="#111"/><rect x="1879.5" y="497" width="6.4" height="19" fill="#c8cbd0" stroke="#505860" stroke-width="0.8"/><rect x="1880.5" y="498" width="4.4" height="3" fill="#111"/><rect x="1880.5" y="512" width="4.4" height="3" fill="#111"/><rect x="1879.5" y="532" width="6.4" height="19" fill="#c8cbd0" stroke="#505860" stroke-width="0.8"/><rect x="1880.5" y="533" width="4.4" height="3" fill="#111"/><rect x="1880.5" y="547" width="4.4" height="3" fill="#111"/><rect x="1909.4" y="264" width="1.6" height="283" fill="#9aa0a6"/><rect x="1907.0" y="278" width="6.4" height="19" fill="#c8cbd0" stroke="#505860" stroke-width="0.8"/><rect x="1908.0" y="279" width="4.4" height="3" fill="#111"/><rect x="1908.0" y="293" width="4.4" height="3" fill="#111"/><rect x="1907.0" y="318" width="6.4" height="19" fill="#c8cbd0" stroke="#505860" stroke-width="0.8"/><rect x="1908.0" y="319" width="4.4" height="3" fill="#111"/><rect x="1908.0" y="333" width="4.4" height="3" fill="#111"/><rect x="1907.0" y="364" width="6.4" height="19" fill="#c8cbd0" stroke="#505860" stroke-width="0.8"/><rect x="1908.0" y="365" width="4.4" height="3" fill="#111"/><rect x="1908.0" y="379" width="4.4" height="3" fill="#111"/><rect x="1907.0" y="409" width="6.4" height="19" fill="#c8cbd0" stroke="#505860" stroke-width="0.8"/><rect x="1908.0" y="410" width="4.4" height="3" fill="#111"/><rect x="1908.0" y="424" width="4.4" height="3" fill="#111"/><rect x="1907.0" y="453" width="6.4" height="19" fill="#c8cbd0" stroke="#505860" stroke-width="0.8"/><rect x="1908.0" y="454" width="4.4" height="3" fill="#111"/><rect x="1908.0" y="468" width="4.4" height="3" fill="#111"/><rect x="1907.0" y="497" width="6.4" height="19" fill="#c8cbd0" stroke="#505860" stroke-width="0.8"/><rect x="1908.0" y="498" width="4.4" height="3" fill="#111"/><rect x="1908.0" y="512" width="4.4" height="3" fill="#111"/><rect x="1907.0" y="532" width="6.4" height="19" fill="#c8cbd0" stroke="#505860" stroke-width="0.8"/><rect x="1908.0" y="533" width="4.4" height="3" fill="#111"/><rect x="1908.0" y="547" width="4.4" height="3" fill="#111"/><path d="M1628 317.6 H1870.3 L1883.3 330.6 V583.7 L1870.3 596.7 H1628 L1615 583.7 V330.6 Z" fill="url(#fg)"/><clipPath id="fcc"><path d="M1628 317.6 H1870.3 L1883.3 330.6 V583.7 L1870.3 596.7 H1628 L1615 583.7 V330.6 Z"/></clipPath><g clip-path="url(#fcc)"><rect x="1616" y="320.0" width="267" height="0.6" fill="#5a5a78" opacity="0.45"/><rect x="1616" y="323.3" width="267" height="0.6" fill="#5a5a78" opacity="0.45"/><rect x="1616" y="326.6" width="267" height="0.6" fill="#5a5a78" opacity="0.45"/><rect x="1616" y="329.9" width="267" height="0.6" fill="#5a5a78" opacity="0.45"/><rect x="1616" y="333.2" width="267" height="0.6" fill="#5a5a78" opacity="0.45"/><rect x="1616" y="336.5" width="267" height="0.6" fill="#5a5a78" opacity="0.45"/><rect x="1616" y="339.8" width="267" height="0.6" fill="#5a5a78" opacity="0.45"/><rect x="1616" y="343.1" width="267" height="0.6" fill="#5a5a78" opacity="0.45"/><rect x="1616" y="346.4" width="267" height="0.6" fill="#5a5a78" opacity="0.45"/><rect x="1616" y="349.7" width="267" height="0.6" fill="#5a5a78" opacity="0.45"/><rect x="1616" y="353.0" width="267" height="0.6" fill="#5a5a78" opacity="0.45"/><rect x="1616" y="356.3" width="267" height="0.6" fill="#5a5a78" opacity="0.45"/><rect x="1616" y="359.6" width="267" height="0.6" fill="#5a5a78" opacity="0.45"/><rect x="1616" y="362.9" width="267" height="0.6" fill="#5a5a78" opacity="0.45"/><rect x="1616" y="366.2" width="267" height="0.6" fill="#5a5a78" opacity="0.45"/><rect x="1616" y="369.5" width="267" height="0.6" fill="#5a5a78" opacity="0.45"/><rect x="1616" y="372.8" width="267" height="0.6" fill="#5a5a78" opacity="0.45"/><rect x="1616" y="376.1" width="267" height="0.6" fill="#5a5a78" opacity="0.45"/><rect x="1616" y="379.4" width="267" height="0.6" fill="#5a5a78" opacity="0.45"/><rect x="1616" y="382.7" width="267" height="0.6" fill="#5a5a78" opacity="0.45"/><rect x="1616" y="386.0" width="267" height="0.6" fill="#5a5a78" opacity="0.45"/><rect x="1616" y="389.3" width="267" height="0.6" fill="#5a5a78" opacity="0.45"/><rect x="1616" y="392.6" width="267" height="0.6" fill="#5a5a78" opacity="0.45"/><rect x="1616" y="395.9" width="267" height="0.6" fill="#5a5a78" opacity="0.45"/><rect x="1616" y="399.2" width="267" height="0.6" fill="#5a5a78" opacity="0.45"/><rect x="1616" y="402.5" width="267" height="0.6" fill="#5a5a78" opacity="0.45"/><rect x="1616" y="405.8" width="267" height="0.6" fill="#5a5a78" opacity="0.45"/><rect x="1616" y="409.1" width="267" height="0.6" fill="#5a5a78" opacity="0.45"/><rect x="1616" y="412.4" width="267" height="0.6" fill="#5a5a78" opacity="0.45"/><rect x="1616" y="415.7" width="267" height="0.6" fill="#5a5a78" opacity="0.45"/><rect x="1616" y="419.0" width="267" height="0.6" fill="#5a5a78" opacity="0.45"/><rect x="1616" y="422.3" width="267" height="0.6" fill="#5a5a78" opacity="0.45"/><rect x="1616" y="425.6" width="267" height="0.6" fill="#5a5a78" opacity="0.45"/><rect x="1616" y="428.9" width="267" height="0.6" fill="#5a5a78" opacity="0.45"/><rect x="1616" y="432.2" width="267" height="0.6" fill="#5a5a78" opacity="0.45"/><rect x="1616" y="435.5" width="267" height="0.6" fill="#5a5a78" opacity="0.45"/><rect x="1616" y="438.8" width="267" height="0.6" fill="#5a5a78" opacity="0.45"/><rect x="1616" y="442.1" width="267" height="0.6" fill="#5a5a78" opacity="0.45"/><rect x="1616" y="445.4" width="267" height="0.6" fill="#5a5a78" opacity="0.45"/><rect x="1616" y="448.7" width="267" height="0.6" fill="#5a5a78" opacity="0.45"/><rect x="1616" y="452.0" width="267" height="0.6" fill="#5a5a78" opacity="0.45"/><rect x="1616" y="455.3" width="267" height="0.6" fill="#5a5a78" opacity="0.45"/><rect x="1616" y="458.6" width="267" height="0.6" fill="#5a5a78" opacity="0.45"/><rect x="1616" y="461.9" width="267" height="0.6" fill="#5a5a78" opacity="0.45"/><rect x="1616" y="465.2" width="267" height="0.6" fill="#5a5a78" opacity="0.45"/><rect x="1616" y="468.5" width="267" height="0.6" fill="#5a5a78" opacity="0.45"/><rect x="1616" y="471.8" width="267" height="0.6" fill="#5a5a78" opacity="0.45"/><rect x="1616" y="475.1" width="267" height="0.6" fill="#5a5a78" opacity="0.45"/><rect x="1616" y="478.4" width="267" height="0.6" fill="#5a5a78" opacity="0.45"/><rect x="1616" y="481.7" width="267" height="0.6" fill="#5a5a78" opacity="0.45"/><rect x="1616" y="485.0" width="267" height="0.6" fill="#5a5a78" opacity="0.45"/><rect x="1616" y="488.3" width="267" height="0.6" fill="#5a5a78" opacity="0.45"/><rect x="1616" y="491.6" width="267" height="0.6" fill="#5a5a78" opacity="0.45"/><rect x="1616" y="494.9" width="267" height="0.6" fill="#5a5a78" opacity="0.45"/><rect x="1616" y="498.2" width="267" height="0.6" fill="#5a5a78" opacity="0.45"/><rect x="1616" y="501.5" width="267" height="0.6" fill="#5a5a78" opacity="0.45"/><rect x="1616" y="504.8" width="267" height="0.6" fill="#5a5a78" opacity="0.45"/><rect x="1616" y="508.1" width="267" height="0.6" fill="#5a5a78" opacity="0.45"/><rect x="1616" y="511.4" width="267" height="0.6" fill="#5a5a78" opacity="0.45"/><rect x="1616" y="514.7" width="267" height="0.6" fill="#5a5a78" opacity="0.45"/><rect x="1616" y="518.0" width="267" height="0.6" fill="#5a5a78" opacity="0.45"/><rect x="1616" y="521.3" width="267" height="0.6" fill="#5a5a78" opacity="0.45"/><rect x="1616" y="524.6" width="267" height="0.6" fill="#5a5a78" opacity="0.45"/><rect x="1616" y="527.9" width="267" height="0.6" fill="#5a5a78" opacity="0.45"/><rect x="1616" y="531.2" width="267" height="0.6" fill="#5a5a78" opacity="0.45"/><rect x="1616" y="534.5" width="267" height="0.6" fill="#5a5a78" opacity="0.45"/><rect x="1616" y="537.8" width="267" height="0.6" fill="#5a5a78" opacity="0.45"/><rect x="1616" y="541.1" width="267" height="0.6" fill="#5a5a78" opacity="0.45"/><rect x="1616" y="544.4" width="267" height="0.6" fill="#5a5a78" opacity="0.45"/><rect x="1616" y="547.7" width="267" height="0.6" fill="#5a5a78" opacity="0.45"/><rect x="1616" y="551.0" width="267" height="0.6" fill="#5a5a78" opacity="0.45"/><rect x="1616" y="554.3" width="267" height="0.6" fill="#5a5a78" opacity="0.45"/><rect x="1616" y="557.6" width="267" height="0.6" fill="#5a5a78" opacity="0.45"/><rect x="1616" y="560.9" width="267" height="0.6" fill="#5a5a78" opacity="0.45"/><rect x="1616" y="564.2" width="267" height="0.6" fill="#5a5a78" opacity="0.45"/><rect x="1616" y="567.5" width="267" height="0.6" fill="#5a5a78" opacity="0.45"/><rect x="1616" y="570.8" width="267" height="0.6" fill="#5a5a78" opacity="0.45"/><rect x="1616" y="574.1" width="267" height="0.6" fill="#5a5a78" opacity="0.45"/><rect x="1616" y="577.4" width="267" height="0.6" fill="#5a5a78" opacity="0.45"/><rect x="1616" y="580.7" width="267" height="0.6" fill="#5a5a78" opacity="0.45"/><rect x="1616" y="584.0" width="267" height="0.6" fill="#5a5a78" opacity="0.45"/><rect x="1616" y="587.3" width="267" height="0.6" fill="#5a5a78" opacity="0.45"/><rect x="1616" y="590.6" width="267" height="0.6" fill="#5a5a78" opacity="0.45"/><rect x="1616" y="593.9" width="267" height="0.6" fill="#5a5a78" opacity="0.45"/></g><rect x="1639.8" y="318" width="1.1" height="278" fill="#9a9ac0" opacity="0.55"/><rect x="1638.8999999999999" y="336" width="2.8" height="2" fill="#d8d8ec"/><rect x="1638.8999999999999" y="350" width="2.8" height="2" fill="#d8d8ec"/><rect x="1638.8999999999999" y="372" width="2.8" height="2" fill="#d8d8ec"/><rect x="1638.8999999999999" y="393" width="2.8" height="2" fill="#d8d8ec"/><rect x="1638.8999999999999" y="415" width="2.8" height="2" fill="#d8d8ec"/><rect x="1638.8999999999999" y="437" width="2.8" height="2" fill="#d8d8ec"/><rect x="1638.8999999999999" y="459" width="2.8" height="2" fill="#d8d8ec"/><rect x="1638.8999999999999" y="481" width="2.8" height="2" fill="#d8d8ec"/><rect x="1638.8999999999999" y="503" width="2.8" height="2" fill="#d8d8ec"/><rect x="1638.8999999999999" y="525" width="2.8" height="2" fill="#d8d8ec"/><rect x="1638.8999999999999" y="546" width="2.8" height="2" fill="#d8d8ec"/><rect x="1638.8999999999999" y="568" width="2.8" height="2" fill="#d8d8ec"/><rect x="1638.8999999999999" y="582" width="2.8" height="2" fill="#d8d8ec"/><rect x="1638.5" y="449" width="3.6" height="15" fill="none" stroke="#c9c9e6" stroke-width="1"/><rect x="1666.7" y="318" width="1.1" height="278" fill="#9a9ac0" opacity="0.55"/><rect x="1665.8" y="336" width="2.8" height="2" fill="#d8d8ec"/><rect x="1665.8" y="350" width="2.8" height="2" fill="#d8d8ec"/><rect x="1665.8" y="372" width="2.8" height="2" fill="#d8d8ec"/><rect x="1665.8" y="393" width="2.8" height="2" fill="#d8d8ec"/><rect x="1665.8" y="415" width="2.8" height="2" fill="#d8d8ec"/><rect x="1665.8" y="437" width="2.8" height="2" fill="#d8d8ec"/><rect x="1665.8" y="459" width="2.8" height="2" fill="#d8d8ec"/><rect x="1665.8" y="481" width="2.8" height="2" fill="#d8d8ec"/><rect x="1665.8" y="503" width="2.8" height="2" fill="#d8d8ec"/><rect x="1665.8" y="525" width="2.8" height="2" fill="#d8d8ec"/><rect x="1665.8" y="546" width="2.8" height="2" fill="#d8d8ec"/><rect x="1665.8" y="568" width="2.8" height="2" fill="#d8d8ec"/><rect x="1665.8" y="582" width="2.8" height="2" fill="#d8d8ec"/><rect x="1665.4" y="449" width="3.6" height="15" fill="none" stroke="#c9c9e6" stroke-width="1"/><rect x="1694.0" y="318" width="1.1" height="278" fill="#9a9ac0" opacity="0.55"/><rect x="1693.1" y="336" width="2.8" height="2" fill="#d8d8ec"/><rect x="1693.1" y="350" width="2.8" height="2" fill="#d8d8ec"/><rect x="1693.1" y="372" width="2.8" height="2" fill="#d8d8ec"/><rect x="1693.1" y="393" width="2.8" height="2" fill="#d8d8ec"/><rect x="1693.1" y="415" width="2.8" height="2" fill="#d8d8ec"/><rect x="1693.1" y="437" width="2.8" height="2" fill="#d8d8ec"/><rect x="1693.1" y="459" width="2.8" height="2" fill="#d8d8ec"/><rect x="1693.1" y="481" width="2.8" height="2" fill="#d8d8ec"/><rect x="1693.1" y="503" width="2.8" height="2" fill="#d8d8ec"/><rect x="1693.1" y="525" width="2.8" height="2" fill="#d8d8ec"/><rect x="1693.1" y="546" width="2.8" height="2" fill="#d8d8ec"/><rect x="1693.1" y="568" width="2.8" height="2" fill="#d8d8ec"/><rect x="1693.1" y="582" width="2.8" height="2" fill="#d8d8ec"/><rect x="1692.7" y="449" width="3.6" height="15" fill="none" stroke="#c9c9e6" stroke-width="1"/><rect x="1721.5" y="318" width="1.1" height="278" fill="#9a9ac0" opacity="0.55"/><rect x="1720.6" y="336" width="2.8" height="2" fill="#d8d8ec"/><rect x="1720.6" y="350" width="2.8" height="2" fill="#d8d8ec"/><rect x="1720.6" y="372" width="2.8" height="2" fill="#d8d8ec"/><rect x="1720.6" y="393" width="2.8" height="2" fill="#d8d8ec"/><rect x="1720.6" y="415" width="2.8" height="2" fill="#d8d8ec"/><rect x="1720.6" y="437" width="2.8" height="2" fill="#d8d8ec"/><rect x="1720.6" y="459" width="2.8" height="2" fill="#d8d8ec"/><rect x="1720.6" y="481" width="2.8" height="2" fill="#d8d8ec"/><rect x="1720.6" y="503" width="2.8" height="2" fill="#d8d8ec"/><rect x="1720.6" y="525" width="2.8" height="2" fill="#d8d8ec"/><rect x="1720.6" y="546" width="2.8" height="2" fill="#d8d8ec"/><rect x="1720.6" y="568" width="2.8" height="2" fill="#d8d8ec"/><rect x="1720.6" y="582" width="2.8" height="2" fill="#d8d8ec"/><rect x="1720.2" y="449" width="3.6" height="15" fill="none" stroke="#c9c9e6" stroke-width="1"/><rect x="1748.4" y="318" width="1.1" height="278" fill="#9a9ac0" opacity="0.55"/><rect x="1747.5" y="336" width="2.8" height="2" fill="#d8d8ec"/><rect x="1747.5" y="350" width="2.8" height="2" fill="#d8d8ec"/><rect x="1747.5" y="372" width="2.8" height="2" fill="#d8d8ec"/><rect x="1747.5" y="393" width="2.8" height="2" fill="#d8d8ec"/><rect x="1747.5" y="415" width="2.8" height="2" fill="#d8d8ec"/><rect x="1747.5" y="437" width="2.8" height="2" fill="#d8d8ec"/><rect x="1747.5" y="459" width="2.8" height="2" fill="#d8d8ec"/><rect x="1747.5" y="481" width="2.8" height="2" fill="#d8d8ec"/><rect x="1747.5" y="503" width="2.8" height="2" fill="#d8d8ec"/><rect x="1747.5" y="525" width="2.8" height="2" fill="#d8d8ec"/><rect x="1747.5" y="546" width="2.8" height="2" fill="#d8d8ec"/><rect x="1747.5" y="568" width="2.8" height="2" fill="#d8d8ec"/><rect x="1747.5" y="582" width="2.8" height="2" fill="#d8d8ec"/><rect x="1747.1000000000001" y="449" width="3.6" height="15" fill="none" stroke="#c9c9e6" stroke-width="1"/><rect x="1775.6" y="318" width="1.1" height="278" fill="#9a9ac0" opacity="0.55"/><rect x="1774.6999999999998" y="336" width="2.8" height="2" fill="#d8d8ec"/><rect x="1774.6999999999998" y="350" width="2.8" height="2" fill="#d8d8ec"/><rect x="1774.6999999999998" y="372" width="2.8" height="2" fill="#d8d8ec"/><rect x="1774.6999999999998" y="393" width="2.8" height="2" fill="#d8d8ec"/><rect x="1774.6999999999998" y="415" width="2.8" height="2" fill="#d8d8ec"/><rect x="1774.6999999999998" y="437" width="2.8" height="2" fill="#d8d8ec"/><rect x="1774.6999999999998" y="459" width="2.8" height="2" fill="#d8d8ec"/><rect x="1774.6999999999998" y="481" width="2.8" height="2" fill="#d8d8ec"/><rect x="1774.6999999999998" y="503" width="2.8" height="2" fill="#d8d8ec"/><rect x="1774.6999999999998" y="525" width="2.8" height="2" fill="#d8d8ec"/><rect x="1774.6999999999998" y="546" width="2.8" height="2" fill="#d8d8ec"/><rect x="1774.6999999999998" y="568" width="2.8" height="2" fill="#d8d8ec"/><rect x="1774.6999999999998" y="582" width="2.8" height="2" fill="#d8d8ec"/><rect x="1774.3" y="449" width="3.6" height="15" fill="none" stroke="#c9c9e6" stroke-width="1"/><rect x="1802.7" y="318" width="1.1" height="278" fill="#9a9ac0" opacity="0.55"/><rect x="1801.8" y="336" width="2.8" height="2" fill="#d8d8ec"/><rect x="1801.8" y="350" width="2.8" height="2" fill="#d8d8ec"/><rect x="1801.8" y="372" width="2.8" height="2" fill="#d8d8ec"/><rect x="1801.8" y="393" width="2.8" height="2" fill="#d8d8ec"/><rect x="1801.8" y="415" width="2.8" height="2" fill="#d8d8ec"/><rect x="1801.8" y="437" width="2.8" height="2" fill="#d8d8ec"/><rect x="1801.8" y="459" width="2.8" height="2" fill="#d8d8ec"/><rect x="1801.8" y="481" width="2.8" height="2" fill="#d8d8ec"/><rect x="1801.8" y="503" width="2.8" height="2" fill="#d8d8ec"/><rect x="1801.8" y="525" width="2.8" height="2" fill="#d8d8ec"/><rect x="1801.8" y="546" width="2.8" height="2" fill="#d8d8ec"/><rect x="1801.8" y="568" width="2.8" height="2" fill="#d8d8ec"/><rect x="1801.8" y="582" width="2.8" height="2" fill="#d8d8ec"/><rect x="1801.4" y="449" width="3.6" height="15" fill="none" stroke="#c9c9e6" stroke-width="1"/><rect x="1830.0" y="318" width="1.1" height="278" fill="#9a9ac0" opacity="0.55"/><rect x="1829.1" y="336" width="2.8" height="2" fill="#d8d8ec"/><rect x="1829.1" y="350" width="2.8" height="2" fill="#d8d8ec"/><rect x="1829.1" y="372" width="2.8" height="2" fill="#d8d8ec"/><rect x="1829.1" y="393" width="2.8" height="2" fill="#d8d8ec"/><rect x="1829.1" y="415" width="2.8" height="2" fill="#d8d8ec"/><rect x="1829.1" y="437" width="2.8" height="2" fill="#d8d8ec"/><rect x="1829.1" y="459" width="2.8" height="2" fill="#d8d8ec"/><rect x="1829.1" y="481" width="2.8" height="2" fill="#d8d8ec"/><rect x="1829.1" y="503" width="2.8" height="2" fill="#d8d8ec"/><rect x="1829.1" y="525" width="2.8" height="2" fill="#d8d8ec"/><rect x="1829.1" y="546" width="2.8" height="2" fill="#d8d8ec"/><rect x="1829.1" y="568" width="2.8" height="2" fill="#d8d8ec"/><rect x="1829.1" y="582" width="2.8" height="2" fill="#d8d8ec"/><rect x="1828.7" y="449" width="3.6" height="15" fill="none" stroke="#c9c9e6" stroke-width="1"/><rect x="1857.3" y="318" width="1.1" height="278" fill="#9a9ac0" opacity="0.55"/><rect x="1856.3999999999999" y="336" width="2.8" height="2" fill="#d8d8ec"/><rect x="1856.3999999999999" y="350" width="2.8" height="2" fill="#d8d8ec"/><rect x="1856.3999999999999" y="372" width="2.8" height="2" fill="#d8d8ec"/><rect x="1856.3999999999999" y="393" width="2.8" height="2" fill="#d8d8ec"/><rect x="1856.3999999999999" y="415" width="2.8" height="2" fill="#d8d8ec"/><rect x="1856.3999999999999" y="437" width="2.8" height="2" fill="#d8d8ec"/><rect x="1856.3999999999999" y="459" width="2.8" height="2" fill="#d8d8ec"/><rect x="1856.3999999999999" y="481" width="2.8" height="2" fill="#d8d8ec"/><rect x="1856.3999999999999" y="503" width="2.8" height="2" fill="#d8d8ec"/><rect x="1856.3999999999999" y="525" width="2.8" height="2" fill="#d8d8ec"/><rect x="1856.3999999999999" y="546" width="2.8" height="2" fill="#d8d8ec"/><rect x="1856.3999999999999" y="568" width="2.8" height="2" fill="#d8d8ec"/><rect x="1856.3999999999999" y="582" width="2.8" height="2" fill="#d8d8ec"/><rect x="1856.0" y="449" width="3.6" height="15" fill="none" stroke="#c9c9e6" stroke-width="1"/></svg>
<svg style="left:0;top:0" width="2023" height="1907" viewBox="0 0 2023 1907"><line x1="1270.5" y1="921.0" x2="1270.5" y2="1370.0" stroke="#111" stroke-width="1.0"/><line x1="1275.1" y1="921.0" x2="1275.1" y2="1370.0" stroke="#111" stroke-width="1.0"/><line x1="1279.8" y1="921.0" x2="1279.8" y2="1370.0" stroke="#8f8f8f" stroke-width="1.0"/><line x1="1284.4" y1="921.0" x2="1284.4" y2="1370.0" stroke="#111" stroke-width="1.0"/><line x1="1289.1" y1="921.0" x2="1289.1" y2="1370.0" stroke="#111" stroke-width="1.0"/><line x1="1293.7" y1="921.0" x2="1293.7" y2="1370.0" stroke="#8f8f8f" stroke-width="1.0"/><line x1="1298.3" y1="921.0" x2="1298.3" y2="1370.0" stroke="#111" stroke-width="1.0"/><line x1="1303.0" y1="921.0" x2="1303.0" y2="1370.0" stroke="#111" stroke-width="1.0"/><line x1="1307.6" y1="921.0" x2="1307.6" y2="1370.0" stroke="#8f8f8f" stroke-width="1.0"/><line x1="1312.3" y1="921.0" x2="1312.3" y2="1370.0" stroke="#111" stroke-width="1.0"/><line x1="1316.9" y1="921.0" x2="1316.9" y2="1370.0" stroke="#111" stroke-width="1.0"/><line x1="1321.5" y1="921.0" x2="1321.5" y2="1370.0" stroke="#8f8f8f" stroke-width="1.0"/><line x1="1326.2" y1="921.0" x2="1326.2" y2="1370.0" stroke="#111" stroke-width="1.0"/><line x1="1330.8" y1="921.0" x2="1330.8" y2="1370.0" stroke="#111" stroke-width="1.0"/><line x1="1335.5" y1="921.0" x2="1335.5" y2="1370.0" stroke="#8f8f8f" stroke-width="1.0"/><line x1="1340.1" y1="921.0" x2="1340.1" y2="1370.0" stroke="#111" stroke-width="1.0"/><line x1="1344.7" y1="921.0" x2="1344.7" y2="1370.0" stroke="#111" stroke-width="1.0"/><line x1="1349.4" y1="921.0" x2="1349.4" y2="1370.0" stroke="#8f8f8f" stroke-width="1.0"/><line x1="1354.0" y1="921.0" x2="1354.0" y2="1370.0" stroke="#111" stroke-width="1.0"/><line x1="1358.7" y1="921.0" x2="1358.7" y2="1370.0" stroke="#111" stroke-width="1.0"/><line x1="1363.3" y1="921.0" x2="1363.3" y2="1370.0" stroke="#8f8f8f" stroke-width="1.0"/><line x1="1367.9" y1="921.0" x2="1367.9" y2="1370.0" stroke="#111" stroke-width="1.0"/><line x1="1372.6" y1="921.0" x2="1372.6" y2="1370.0" stroke="#111" stroke-width="1.0"/><line x1="1377.2" y1="921.0" x2="1377.2" y2="1370.0" stroke="#8f8f8f" stroke-width="1.0"/><line x1="1381.9" y1="921.0" x2="1381.9" y2="1370.0" stroke="#111" stroke-width="1.0"/><line x1="1386.5" y1="921.0" x2="1386.5" y2="1370.0" stroke="#111" stroke-width="1.0"/><line x1="1391.1" y1="921.0" x2="1391.1" y2="1370.0" stroke="#8f8f8f" stroke-width="1.0"/><line x1="1395.8" y1="921.0" x2="1395.8" y2="1370.0" stroke="#111" stroke-width="1.0"/><line x1="1400.4" y1="921.0" x2="1400.4" y2="1370.0" stroke="#111" stroke-width="1.0"/><line x1="1405.1" y1="921.0" x2="1405.1" y2="1370.0" stroke="#8f8f8f" stroke-width="1.0"/><line x1="1409.7" y1="921.0" x2="1409.7" y2="1370.0" stroke="#111" stroke-width="1.0"/><line x1="1414.3" y1="921.0" x2="1414.3" y2="1370.0" stroke="#111" stroke-width="1.0"/><line x1="1419.0" y1="921.0" x2="1419.0" y2="1370.0" stroke="#8f8f8f" stroke-width="1.0"/><line x1="1423.6" y1="921.0" x2="1423.6" y2="1370.0" stroke="#111" stroke-width="1.0"/><line x1="1428.3" y1="921.0" x2="1428.3" y2="1370.0" stroke="#111" stroke-width="1.0"/><line x1="1432.9" y1="921.0" x2="1432.9" y2="1370.0" stroke="#8f8f8f" stroke-width="1.0"/><line x1="1437.5" y1="921.0" x2="1437.5" y2="1370.0" stroke="#111" stroke-width="1.0"/><line x1="1442.2" y1="921.0" x2="1442.2" y2="1370.0" stroke="#111" stroke-width="1.0"/><line x1="1446.8" y1="921.0" x2="1446.8" y2="1370.0" stroke="#8f8f8f" stroke-width="1.0"/><line x1="1275.1" y1="921.0" x2="1275.1" y2="1370.0" stroke="#000" stroke-width="2.0"/><line x1="1289.0" y1="921.0" x2="1289.0" y2="1370.0" stroke="#000" stroke-width="2.0"/><line x1="1348.3" y1="921.0" x2="1348.3" y2="1370.0" stroke="#000" stroke-width="2.0"/><line x1="1366.9" y1="921.0" x2="1366.9" y2="1370.0" stroke="#000" stroke-width="2.0"/><line x1="1430.8" y1="921.0" x2="1430.8" y2="1370.0" stroke="#000" stroke-width="2.0"/><rect x="1266.0" y="921.6" width="44.5" height="23.7" rx="3" fill="none" stroke="#000" stroke-width="0.9"/><rect x="1312.0" y="921.6" width="44.5" height="23.7" rx="3" fill="none" stroke="#000" stroke-width="0.9"/><rect x="1358.0" y="921.6" width="44.5" height="23.7" rx="3" fill="none" stroke="#000" stroke-width="0.9"/><rect x="1404.0" y="921.6" width="45.0" height="23.7" rx="3" fill="none" stroke="#000" stroke-width="0.9"/><rect x="1266.0" y="946.5" width="44.5" height="23.7" rx="3" fill="none" stroke="#000" stroke-width="0.9"/><rect x="1312.0" y="946.5" width="44.5" height="23.7" rx="3" fill="none" stroke="#000" stroke-width="0.9"/><rect x="1358.0" y="946.5" width="44.5" height="23.7" rx="3" fill="none" stroke="#000" stroke-width="0.9"/><rect x="1404.0" y="946.5" width="45.0" height="23.7" rx="3" fill="none" stroke="#000" stroke-width="0.9"/><rect x="1266.0" y="971.5" width="44.5" height="23.7" rx="3" fill="none" stroke="#000" stroke-width="0.9"/><rect x="1312.0" y="971.5" width="44.5" height="23.7" rx="3" fill="none" stroke="#000" stroke-width="0.9"/><rect x="1358.0" y="971.5" width="44.5" height="23.7" rx="3" fill="none" stroke="#000" stroke-width="0.9"/><rect x="1404.0" y="971.5" width="45.0" height="23.7" rx="3" fill="none" stroke="#000" stroke-width="0.9"/><rect x="1266.0" y="996.4" width="44.5" height="23.7" rx="3" fill="none" stroke="#000" stroke-width="0.9"/><rect x="1312.0" y="996.4" width="44.5" height="23.7" rx="3" fill="none" stroke="#000" stroke-width="0.9"/><rect x="1358.0" y="996.4" width="44.5" height="23.7" rx="3" fill="none" stroke="#000" stroke-width="0.9"/><rect x="1404.0" y="996.4" width="45.0" height="23.7" rx="3" fill="none" stroke="#000" stroke-width="0.9"/><rect x="1266.0" y="1021.4" width="44.5" height="23.7" rx="3" fill="none" stroke="#000" stroke-width="0.9"/><rect x="1312.0" y="1021.4" width="44.5" height="23.7" rx="3" fill="none" stroke="#000" stroke-width="0.9"/><rect x="1358.0" y="1021.4" width="44.5" height="23.7" rx="3" fill="none" stroke="#000" stroke-width="0.9"/><rect x="1404.0" y="1021.4" width="45.0" height="23.7" rx="3" fill="none" stroke="#000" stroke-width="0.9"/><rect x="1266.0" y="1046.3" width="44.5" height="23.7" rx="3" fill="none" stroke="#000" stroke-width="0.9"/><rect x="1312.0" y="1046.3" width="44.5" height="23.7" rx="3" fill="none" stroke="#000" stroke-width="0.9"/><rect x="1358.0" y="1046.3" width="44.5" height="23.7" rx="3" fill="none" stroke="#000" stroke-width="0.9"/><rect x="1404.0" y="1046.3" width="45.0" height="23.7" rx="3" fill="none" stroke="#000" stroke-width="0.9"/><rect x="1266.0" y="1071.3" width="44.5" height="23.7" rx="3" fill="none" stroke="#000" stroke-width="0.9"/><rect x="1312.0" y="1071.3" width="44.5" height="23.7" rx="3" fill="none" stroke="#000" stroke-width="0.9"/><rect x="1358.0" y="1071.3" width="44.5" height="23.7" rx="3" fill="none" stroke="#000" stroke-width="0.9"/><rect x="1404.0" y="1071.3" width="45.0" height="23.7" rx="3" fill="none" stroke="#000" stroke-width="0.9"/><rect x="1266.0" y="1096.2" width="44.5" height="23.7" rx="3" fill="none" stroke="#000" stroke-width="0.9"/><rect x="1312.0" y="1096.2" width="44.5" height="23.7" rx="3" fill="none" stroke="#000" stroke-width="0.9"/><rect x="1358.0" y="1096.2" width="44.5" height="23.7" rx="3" fill="none" stroke="#000" stroke-width="0.9"/><rect x="1404.0" y="1096.2" width="45.0" height="23.7" rx="3" fill="none" stroke="#000" stroke-width="0.9"/><rect x="1266.0" y="1121.2" width="44.5" height="23.7" rx="3" fill="none" stroke="#000" stroke-width="0.9"/><rect x="1312.0" y="1121.2" width="44.5" height="23.7" rx="3" fill="none" stroke="#000" stroke-width="0.9"/><rect x="1358.0" y="1121.2" width="44.5" height="23.7" rx="3" fill="none" stroke="#000" stroke-width="0.9"/><rect x="1404.0" y="1121.2" width="45.0" height="23.7" rx="3" fill="none" stroke="#000" stroke-width="0.9"/><rect x="1266.0" y="1146.1" width="44.5" height="23.7" rx="3" fill="none" stroke="#000" stroke-width="0.9"/><rect x="1312.0" y="1146.1" width="44.5" height="23.7" rx="3" fill="none" stroke="#000" stroke-width="0.9"/><rect x="1358.0" y="1146.1" width="44.5" height="23.7" rx="3" fill="none" stroke="#000" stroke-width="0.9"/><rect x="1404.0" y="1146.1" width="45.0" height="23.7" rx="3" fill="none" stroke="#000" stroke-width="0.9"/><rect x="1266.0" y="1171.0" width="44.5" height="23.7" rx="3" fill="none" stroke="#000" stroke-width="0.9"/><rect x="1312.0" y="1171.0" width="44.5" height="23.7" rx="3" fill="none" stroke="#000" stroke-width="0.9"/><rect x="1358.0" y="1171.0" width="44.5" height="23.7" rx="3" fill="none" stroke="#000" stroke-width="0.9"/><rect x="1404.0" y="1171.0" width="45.0" height="23.7" rx="3" fill="none" stroke="#000" stroke-width="0.9"/><rect x="1266.0" y="1196.0" width="44.5" height="23.7" rx="3" fill="none" stroke="#000" stroke-width="0.9"/><rect x="1312.0" y="1196.0" width="44.5" height="23.7" rx="3" fill="none" stroke="#000" stroke-width="0.9"/><rect x="1358.0" y="1196.0" width="44.5" height="23.7" rx="3" fill="none" stroke="#000" stroke-width="0.9"/><rect x="1404.0" y="1196.0" width="45.0" height="23.7" rx="3" fill="none" stroke="#000" stroke-width="0.9"/><rect x="1266.0" y="1220.9" width="44.5" height="23.7" rx="3" fill="none" stroke="#000" stroke-width="0.9"/><rect x="1312.0" y="1220.9" width="44.5" height="23.7" rx="3" fill="none" stroke="#000" stroke-width="0.9"/><rect x="1358.0" y="1220.9" width="44.5" height="23.7" rx="3" fill="none" stroke="#000" stroke-width="0.9"/><rect x="1404.0" y="1220.9" width="45.0" height="23.7" rx="3" fill="none" stroke="#000" stroke-width="0.9"/><rect x="1266.0" y="1245.9" width="44.5" height="23.7" rx="3" fill="none" stroke="#000" stroke-width="0.9"/><rect x="1312.0" y="1245.9" width="44.5" height="23.7" rx="3" fill="none" stroke="#000" stroke-width="0.9"/><rect x="1358.0" y="1245.9" width="44.5" height="23.7" rx="3" fill="none" stroke="#000" stroke-width="0.9"/><rect x="1404.0" y="1245.9" width="45.0" height="23.7" rx="3" fill="none" stroke="#000" stroke-width="0.9"/><rect x="1266.0" y="1270.8" width="44.5" height="23.7" rx="3" fill="none" stroke="#000" stroke-width="0.9"/><rect x="1312.0" y="1270.8" width="44.5" height="23.7" rx="3" fill="none" stroke="#000" stroke-width="0.9"/><rect x="1358.0" y="1270.8" width="44.5" height="23.7" rx="3" fill="none" stroke="#000" stroke-width="0.9"/><rect x="1404.0" y="1270.8" width="45.0" height="23.7" rx="3" fill="none" stroke="#000" stroke-width="0.9"/><rect x="1266.0" y="1295.8" width="44.5" height="23.7" rx="3" fill="none" stroke="#000" stroke-width="0.9"/><rect x="1312.0" y="1295.8" width="44.5" height="23.7" rx="3" fill="none" stroke="#000" stroke-width="0.9"/><rect x="1358.0" y="1295.8" width="44.5" height="23.7" rx="3" fill="none" stroke="#000" stroke-width="0.9"/><rect x="1404.0" y="1295.8" width="45.0" height="23.7" rx="3" fill="none" stroke="#000" stroke-width="0.9"/><rect x="1266.0" y="1320.7" width="44.5" height="23.7" rx="3" fill="none" stroke="#000" stroke-width="0.9"/><rect x="1312.0" y="1320.7" width="44.5" height="23.7" rx="3" fill="none" stroke="#000" stroke-width="0.9"/><rect x="1358.0" y="1320.7" width="44.5" height="23.7" rx="3" fill="none" stroke="#000" stroke-width="0.9"/><rect x="1404.0" y="1320.7" width="45.0" height="23.7" rx="3" fill="none" stroke="#000" stroke-width="0.9"/><rect x="1266.0" y="1345.7" width="44.5" height="23.7" rx="3" fill="none" stroke="#000" stroke-width="0.9"/><rect x="1312.0" y="1345.7" width="44.5" height="23.7" rx="3" fill="none" stroke="#000" stroke-width="0.9"/><rect x="1358.0" y="1345.7" width="44.5" height="23.7" rx="3" fill="none" stroke="#000" stroke-width="0.9"/><rect x="1404.0" y="1345.7" width="45.0" height="23.7" rx="3" fill="none" stroke="#000" stroke-width="0.9"/><line x1="1266.0" y1="945.9" x2="1449.0" y2="945.9" stroke="#000" stroke-width="1.4"/><line x1="1266.0" y1="970.9" x2="1449.0" y2="970.9" stroke="#000" stroke-width="1.4"/><line x1="1266.0" y1="995.8" x2="1449.0" y2="995.8" stroke="#000" stroke-width="1.4"/><line x1="1266.0" y1="1245.3" x2="1449.0" y2="1245.3" stroke="#000" stroke-width="1.4"/><line x1="1266.0" y1="1270.2" x2="1449.0" y2="1270.2" stroke="#000" stroke-width="1.4"/><line x1="1266.0" y1="1295.2" x2="1449.0" y2="1295.2" stroke="#000" stroke-width="1.4"/><line x1="1270.0" y1="919.7" x2="1446.0" y2="919.7" stroke="#000" stroke-width="3"/><line x1="1270.0" y1="1370.5" x2="1446.0" y2="1370.5" stroke="#000" stroke-width="3"/><rect x="1262.5" y="914.5" width="191.0" height="460.5" fill="none" stroke="#000" stroke-width="2"/><line x1="1262.5" y1="877.0" x2="1262.5" y2="913.0" stroke="#000" stroke-width="0.9"/><line x1="1453.5" y1="877.0" x2="1453.5" y2="913.0" stroke="#000" stroke-width="0.9"/><line x1="1262.5" y1="881.4" x2="1453.5" y2="881.4" stroke="#000" stroke-width="0.9"/><text x="1357.0" y="879.6" font-family="Liberation Sans" font-size="11.5" text-anchor="middle" fill="#000">705</text><line x1="1203.0" y1="914.6" x2="1259.7" y2="914.6" stroke="#000" stroke-width="1.1"/><line x1="1203.0" y1="1375.0" x2="1259.7" y2="1375.0" stroke="#000" stroke-width="1.1"/><line x1="1207.2" y1="914.6" x2="1207.2" y2="1375.0" stroke="#000" stroke-width="0.9"/><text x="1204.5" y="1144.0" font-family="Liberation Sans" font-size="11.5" text-anchor="middle" fill="#000" transform="rotate(-90 1204.5 1144.0)">1580</text><text x="1355.0" y="1413.0" font-family="Liberation Serif" font-size="8.5" text-anchor="middle" fill="#000">Front</text><rect x="1510.8" y="914.5" width="8.6" height="460.5" fill="none" stroke="#000" stroke-width="1.5"/><line x1="1510.8" y1="869.0" x2="1510.8" y2="912.0" stroke="#000" stroke-width="0.9"/><line x1="1519.4" y1="869.0" x2="1519.4" y2="912.0" stroke="#000" stroke-width="0.9"/><line x1="1510.8" y1="874.5" x2="1540.0" y2="874.5" stroke="#000" stroke-width="0.9"/><text x="1530.5" y="872.0" font-family="Liberation Sans" font-size="11.5" text-anchor="middle" fill="#000">35</text><text x="1516.0" y="1414.0" font-family="Liberation Serif" font-size="8.5" text-anchor="middle" fill="#000">Side</text><rect x="1579.5" y="914.4" width="191.9" height="460.8" fill="none" stroke="#333" stroke-width="0.9"/><rect x="1587.3" y="923.4" width="176.4" height="442.8" fill="none" stroke="#000" stroke-width="1.6"/><line x1="1579.0" y1="914.4" x2="1771.9" y2="914.4" stroke="#000" stroke-width="1.5"/><line x1="1579.0" y1="1375.2" x2="1771.9" y2="1375.2" stroke="#000" stroke-width="1.5"/><line x1="1579.5" y1="914.4" x2="1587.3" y2="923.4" stroke="#000" stroke-width="0.7"/><line x1="1771.4" y1="914.4" x2="1763.7" y2="923.4" stroke="#000" stroke-width="0.7"/><line x1="1579.5" y1="1375.2" x2="1587.3" y2="1366.2" stroke="#000" stroke-width="0.7"/><line x1="1771.4" y1="1375.2" x2="1763.7" y2="1366.2" stroke="#000" stroke-width="0.7"/><circle cx="1584.5" cy="936" r="1.2" fill="none" stroke="#000" stroke-width="0.8"/><circle cx="1766.5" cy="936" r="1.2" fill="none" stroke="#000" stroke-width="0.8"/><circle cx="1584.5" cy="955" r="1.2" fill="none" stroke="#000" stroke-width="0.8"/><circle cx="1766.5" cy="955" r="1.2" fill="none" stroke="#000" stroke-width="0.8"/><circle cx="1584.5" cy="1028" r="1.2" fill="none" stroke="#000" stroke-width="0.8"/><circle cx="1766.5" cy="1028" r="1.2" fill="none" stroke="#000" stroke-width="0.8"/><circle cx="1584.5" cy="1261" r="1.2" fill="none" stroke="#000" stroke-width="0.8"/><circle cx="1766.5" cy="1261" r="1.2" fill="none" stroke="#000" stroke-width="0.8"/><circle cx="1584.5" cy="1334" r="1.2" fill="none" stroke="#000" stroke-width="0.8"/><circle cx="1766.5" cy="1334" r="1.2" fill="none" stroke="#000" stroke-width="0.8"/><circle cx="1584.5" cy="1356" r="1.2" fill="none" stroke="#000" stroke-width="0.8"/><circle cx="1766.5" cy="1356" r="1.2" fill="none" stroke="#000" stroke-width="0.8"/><line x1="1579.5" y1="866.0" x2="1579.5" y2="913.0" stroke="#000" stroke-width="0.9"/><line x1="1771.4" y1="866.0" x2="1771.4" y2="913.0" stroke="#000" stroke-width="0.9"/><line x1="1579.5" y1="873.2" x2="1771.4" y2="873.2" stroke="#000" stroke-width="0.9"/><text x="1675.0" y="871.0" font-family="Liberation Sans" font-size="11.5" text-anchor="middle" fill="#000">705</text><line x1="1585.0" y1="888.0" x2="1585.0" y2="922.0" stroke="#000" stroke-width="0.9"/><line x1="1765.8" y1="888.0" x2="1765.8" y2="922.0" stroke="#000" stroke-width="0.9"/><line x1="1585.0" y1="893.3" x2="1765.8" y2="893.3" stroke="#000" stroke-width="0.9"/><text x="1675.0" y="891.0" font-family="Liberation Sans" font-size="11.5" text-anchor="middle" fill="#000">662</text><line x1="1771.4" y1="914.4" x2="1819.0" y2="914.4" stroke="#000" stroke-width="1.0"/><line x1="1771.4" y1="1375.2" x2="1819.0" y2="1375.2" stroke="#000" stroke-width="1.0"/><line x1="1816.5" y1="914.4" x2="1816.5" y2="1375.2" stroke="#000" stroke-width="0.9"/><text x="1812.5" y="1144.0" font-family="Liberation Sans" font-size="11.5" text-anchor="middle" fill="#000" transform="rotate(-90 1812.5 1144.0)">1580</text><line x1="1792.8" y1="914.4" x2="1792.8" y2="1028.0" stroke="#000" stroke-width="0.9"/><line x1="1766.0" y1="955.0" x2="1797.0" y2="955.0" stroke="#000" stroke-width="0.8"/><line x1="1766.0" y1="1027.5" x2="1797.0" y2="1027.5" stroke="#000" stroke-width="0.8"/><text x="1789.5" y="934.5" font-family="Liberation Sans" font-size="11.5" text-anchor="middle" fill="#000" transform="rotate(-90 1789.5 934.5)">140</text><text x="1789.5" y="991.5" font-family="Liberation Sans" font-size="11.5" text-anchor="middle" fill="#000" transform="rotate(-90 1789.5 991.5)">250</text><circle cx="1767.5" cy="955.6" r="10.2" fill="none" stroke="#000" stroke-width="0.8"/><text x="1751.0" y="959.0" font-family="Liberation Sans" font-size="9" text-anchor="middle" fill="#000">A</text><circle cx="1868.2" cy="958.2" r="27" fill="none" stroke="#000" stroke-width="0.8"/><rect x="1864.3" y="951" width="9.8" height="16.4" rx="4.5" fill="none" stroke="#000" stroke-width="1"/><line x1="1863.5" y1="944.0" x2="1863.5" y2="967.5" stroke="#000" stroke-width="0.8"/><line x1="1874.8" y1="944.0" x2="1874.8" y2="967.5" stroke="#000" stroke-width="0.8"/><line x1="1863.5" y1="947.0" x2="1874.8" y2="947.0" stroke="#000" stroke-width="0.8"/><line x1="1857.0" y1="951.0" x2="1870.0" y2="951.0" stroke="#000" stroke-width="0.8"/><line x1="1857.0" y1="968.5" x2="1870.0" y2="968.5" stroke="#000" stroke-width="0.8"/><line x1="1861.0" y1="951.0" x2="1861.0" y2="968.5" stroke="#000" stroke-width="0.8"/><text x="1868.5" y="944.0" font-family="Liberation Sans" font-size="10" text-anchor="middle" fill="#000">7</text><text x="1857.0" y="959.5" font-family="Liberation Sans" font-size="10" text-anchor="middle" fill="#000" transform="rotate(-90 1857.0 959.5)">11</text><text x="1869.0" y="984.0" font-family="Liberation Sans" font-size="9" text-anchor="middle" fill="#000">A</text><rect x="1664.2" y="924.2" width="23.5" height="17.7" rx="1.5" fill="#fff" stroke="#000" stroke-width="1.2"/><rect x="1668" y="925.8" width="15.8" height="14.7" fill="none" stroke="#000" stroke-width="0.9"/><rect x="1670" y="930" width="10.5" height="7.3" fill="none" stroke="#000" stroke-width="1.3"/><rect x="1668" y="944.5" width="5.4" height="7.8" fill="none" stroke="#000" stroke-width="1.1"/><rect x="1677.3" y="944.5" width="5.2" height="7.8" fill="none" stroke="#000" stroke-width="1.1"/><line x1="1670.5" y1="952.0" x2="1669.0" y2="959.0" stroke="#000" stroke-width="1.3"/><line x1="1680.0" y1="952.0" x2="1681.5" y2="959.0" stroke="#000" stroke-width="1.3"/><ellipse cx="1675.3" cy="972.6" rx="14.4" ry="14.7" fill="none" stroke="#000" stroke-width="2"/><line x1="1661.6" y1="972.0" x2="1661.6" y2="1072.6" stroke="#000" stroke-width="1.4"/><line x1="1689.4" y1="972.0" x2="1689.4" y2="1070.0" stroke="#000" stroke-width="1.4"/><rect x="1659.6" y="1072" width="3.9" height="11.8" fill="#222"/><rect x="1687.5" y="1070" width="4.3" height="8.6" fill="#222"/><line x1="1661.6" y1="1084.0" x2="1661.6" y2="1087.0" stroke="#000" stroke-width="0.8"/><line x1="1689.6" y1="1079.0" x2="1689.6" y2="1084.0" stroke="#000" stroke-width="0.8"/><line x1="1763.0" y1="1147.0" x2="1797.0" y2="1128.0" stroke="#000" stroke-width="0.8"/><text x="1791.0" y="1133.0" font-family="Liberation Sans" font-size="12" text-anchor="middle" fill="#000" transform="rotate(-30 1791.0 1133.0)">Ø4</text><line x1="1567.0" y1="1330.0" x2="1567.0" y2="1382.0" stroke="#000" stroke-width="0.9"/><line x1="1562.0" y1="1366.2" x2="1587.0" y2="1366.2" stroke="#000" stroke-width="0.8"/><line x1="1562.0" y1="1375.2" x2="1579.0" y2="1375.2" stroke="#000" stroke-width="0.8"/><text x="1564.5" y="1337.0" font-family="Liberation Sans" font-size="11.5" text-anchor="middle" fill="#000" transform="rotate(-90 1564.5 1337.0)">30</text><text x="1677.0" y="1412.0" font-family="Liberation Serif" font-size="8.5" text-anchor="middle" fill="#000">Back</text></svg>
<svg style="left:0;top:0" width="2023" height="1907" viewBox="0 0 2023 1907"><defs><linearGradient id="gring" x1="0.2" y1="1" x2="0.8" y2="0"><stop offset="0" stop-color="#8cc63f"/><stop offset="0.45" stop-color="#3a9a35"/><stop offset="1" stop-color="#0a6e2e"/></linearGradient><linearGradient id="tuvg" x1="0" y1="0" x2="1" y2="0"><stop offset="0" stop-color="#7fd0e8"/><stop offset="0.5" stop-color="#4aa8d8"/><stop offset="1" stop-color="#1a4fb0"/></linearGradient><linearGradient id="certg" x1="0" y1="0" x2="0" y2="1"><stop offset="0" stop-color="#4f9ad0"/><stop offset="1" stop-color="#155a9c"/></linearGradient><pattern id="grid" width="4" height="4" patternUnits="userSpaceOnUse"><rect width="4" height="4" fill="#a89ee0"/><rect width="4" height="1" fill="#cfc8f2"/><rect width="1" height="4" fill="#cfc8f2"/></pattern></defs><ellipse cx="52.4" cy="1594.8" rx="28.4" ry="29" fill="none" stroke="url(#gring)" stroke-width="15"/><path d="M174.5 1558.3 A34.4 34.4 0 0 0 174.5 1627.1000000000001 L174.5 1617.3 A24.6 24.6 0 0 1 174.5 1568.1000000000001 Z" fill="#150d0d"/><path d="M224.5 1558.3 A34.4 34.4 0 0 0 224.5 1627.1000000000001 L224.5 1617.3 A24.6 24.6 0 0 1 224.5 1568.1000000000001 Z" fill="#150d0d"/><rect x="199" y="1586.5" width="24.5" height="10.5" fill="#150d0d"/><rect x="275" y="1558.2" width="65" height="66.6" fill="#1157b5"/><text x="276.5" y="1601" font-family="Liberation Serif" font-size="41" fill="#fff" textLength="61" lengthAdjust="spacingAndGlyphs">IEC</text><rect x="278.7" y="1608" width="47.6" height="8.8" fill="#8fb4ea"/><rect x="278.7" y="1611" width="47.6" height="2" fill="#5a86cf"/><circle cx="332" cy="1612.3" r="4" fill="#fff"/><linearGradient id="octg" x1="0" y1="0" x2="1" y2="0"><stop offset="0" stop-color="#62c9d6"/><stop offset="0.45" stop-color="#3f8fd0"/><stop offset="0.7" stop-color="#1d55b8"/><stop offset="1" stop-color="#1a48a8"/></linearGradient><polygon points="457.7,1606.3 438.2,1625.8 410.4,1625.8 390.9,1606.3 390.9,1578.5 410.4,1559.0 438.2,1559.0 457.7,1578.5" fill="url(#octg)"/><line x1="392" y1="1593" x2="405" y2="1593" stroke="#3a7a80" stroke-width="1"/><line x1="443" y1="1592" x2="452" y2="1592" stroke="#8ab8e8" stroke-width="1"/><circle cx="422.6" cy="1592.6" r="19.2" fill="#d9d0cf"/><text x="423" y="1597.5" font-family="Liberation Sans" font-weight="bold" font-size="16" fill="#111" text-anchor="middle" textLength="31" lengthAdjust="spacingAndGlyphs">TUV</text><rect x="416" y="1603" width="13" height="5" fill="#7a7068"/><ellipse cx="525.7" cy="1592.5" rx="29" ry="38" fill="none" stroke="#8cc8f0" stroke-width="1.5"/><ellipse cx="525.7" cy="1592.5" rx="15" ry="38" fill="none" stroke="#a8d8f4" stroke-width="1"/><path d="M500 1568 Q525.7 1560 551 1568 M500 1617 Q525.7 1625 551 1617" fill="none" stroke="#9fd0f2" stroke-width="1.2"/><text x="526" y="1608.6" font-family="Liberation Serif" font-weight="bold" font-size="44" fill="none" stroke="#5ec0dc" stroke-width="4" text-anchor="middle" textLength="85" lengthAdjust="spacingAndGlyphs">ISO</text><text x="526" y="1608.6" font-family="Liberation Serif" font-weight="bold" font-size="44" fill="#d08a32" stroke="#d08a32" stroke-width="2.2" text-anchor="middle" textLength="85" lengthAdjust="spacingAndGlyphs">ISO</text><path d="M592.5 1555 Q607 1548 624 1557 L655 1585 L651 1588 L621 1565 Q607 1557 603 1568 Q603 1600 634 1632 Q589 1600 592.5 1555 Z" fill="#4a9cb8"/><path d="M641 1572 Q660 1555 670 1567 Q677 1588 646 1627" fill="none" stroke="#b8cadc" stroke-width="4"/><text x="634" y="1603" font-family="Liberation Sans" font-weight="bold" font-size="13" fill="#6a6a6a" text-anchor="middle" textLength="24" lengthAdjust="spacingAndGlyphs">MCS</text><path d="M737.5 1548.5 A40.5 40.5 0 1 0 778 1589.6 L756 1589.6 A18.5 18.5 0 1 1 737.5 1571 Z" fill="#1a3e9a"/><text x="745" y="1579" font-family="Liberation Sans" font-weight="bold" font-size="6.5" fill="#1a3e9a" text-anchor="middle" textLength="39" lengthAdjust="spacingAndGlyphs">TÜV Rheinland</text><rect x="731" y="1585" width="30" height="1" fill="#9aa6c0"/><rect x="733" y="1589" width="22" height="1" fill="#b8c0d4"/><path d="M745 1549 Q775 1556 779 1583" fill="none" stroke="#d4dae6" stroke-width="1.2"/><text x="740" y="1622" font-family="Liberation Sans" font-weight="bold" font-size="7" fill="#dfe6f6" text-anchor="middle" transform="rotate(-28 740 1622)" textLength="34" lengthAdjust="spacingAndGlyphs">TYPE TESTED</text><rect x="803.3" y="1548.3" width="79.1" height="83" fill="url(#grid)"/><polygon points="882.4,1548.3 875,1548.3 871,1568 841,1590 840,1598 825,1618 803.3,1629 803.3,1631.3 882.4,1631.3" fill="#2a2a78"/><text x="852.5" y="1627" font-family="Liberation Sans" font-weight="bold" font-size="30" fill="#f4f0ff" text-anchor="middle" textLength="47" lengthAdjust="spacingAndGlyphs">IDCOL</text><rect x="921.5" y="1549.8" width="78" height="82.5" rx="9" fill="#fff" stroke="#8a8a8a" stroke-width="3"/><path d="M923 1611 H998 V1622 Q998 1631 989 1631 H932 Q923 1631 923 1622 Z" fill="url(#certg)"/><path d="M961 1558.5 L942.5 1591 L976.5 1591 L970.5 1582 L954 1582" fill="none" stroke="#1d6a8a" stroke-width="3.6" stroke-linejoin="miter"/><path d="M961 1558.5 L967 1569" fill="none" stroke="#1d6a8a" stroke-width="3.6"/><text x="960.5" y="1607" font-family="Liberation Sans" font-weight="bold" font-size="8" fill="#111" text-anchor="middle" textLength="62" lengthAdjust="spacingAndGlyphs">TÜVRheinland</text><text x="960.5" y="1625" font-family="Liberation Sans" font-weight="bold" font-size="8" fill="#e8e0a0" text-anchor="middle" textLength="42" lengthAdjust="spacingAndGlyphs">CERTIFIED</text><rect x="25.4" y="1694.9" width="66.6" height="70.7" rx="7.5" fill="#3e3c3b"/><text x="59" y="1741.7" font-family="Liberation Sans" font-weight="bold" font-size="50" fill="#fff" text-anchor="middle" textLength="51.5" lengthAdjust="spacingAndGlyphs">12</text><text x="59" y="1757.3" font-family="Liberation Sans" font-weight="bold" font-size="14" fill="#fff" text-anchor="middle" textLength="50.5" lengthAdjust="spacingAndGlyphs">YEARS</text><rect x="26.2" y="1797.9" width="68.4" height="70.8" rx="7.5" fill="#3e3c3b"/><text x="61" y="1843.2" font-family="Liberation Sans" font-weight="bold" font-size="53" fill="#fff" text-anchor="middle" textLength="49.5" lengthAdjust="spacingAndGlyphs">25</text><text x="60" y="1859.8" font-family="Liberation Sans" font-size="14" fill="#fff" text-anchor="middle" textLength="45.2" lengthAdjust="spacingAndGlyphs">YEARS</text><text x="122.6" y="1743.5" font-family="Liberation Sans" font-size="31" fill="#000" textLength="579" lengthAdjust="spacingAndGlyphs">Guarantee on product material and workmanship</text><text x="127.6" y="1843.7" font-family="Liberation Sans" font-size="29" fill="#000" textLength="352" lengthAdjust="spacingAndGlyphs">Linear Power output warranty</text></svg>
<svg style="left:0;top:0" width="2023" height="1907" viewBox="0 0 2023 1907"><defs><linearGradient id="blueg" x1="0" y1="0" x2="1" y2="0"><stop offset="0" stop-color="#0d8ae8"/><stop offset="0.5" stop-color="#1f84d2"/><stop offset="1" stop-color="#2b7cc0"/></linearGradient><linearGradient id="grayg" x1="0" y1="0" x2="1" y2="1"><stop offset="0" stop-color="#c6c6c6"/><stop offset="1" stop-color="#b0b0b0"/></linearGradient></defs><path d="M1129.5 1604.5 L1158 1604.5 Q1165 1604.5 1175 1607.6 L1978.6 1777.7 L1978.6 1829.3 L1129.5 1829.3 Z" fill="url(#blueg)"/><path d="M1129.5 1675.3 L1469.5 1675.3 L1469.5 1777.7 L1978.6 1777.7 L1978.6 1829.3 L1129.5 1829.3 Z" fill="url(#grayg)"/><line x1="1129.5" y1="1572.8" x2="1129.5" y2="1829.3" stroke="#222" stroke-width="1.3"/><line x1="1129.5" y1="1829.3" x2="1978.6" y2="1829.3" stroke="#222" stroke-width="1.6"/><line x1="1124.2" y1="1572.8" x2="1129.5" y2="1572.8" stroke="#555" stroke-width="0.8"/><line x1="1124.2" y1="1604.5" x2="1129.5" y2="1604.5" stroke="#555" stroke-width="0.8"/><line x1="1124.2" y1="1675.3" x2="1129.5" y2="1675.3" stroke="#555" stroke-width="0.8"/><line x1="1124.2" y1="1777.7" x2="1129.5" y2="1777.7" stroke="#555" stroke-width="0.8"/><text x="1122.6" y="1576.8" font-family="Liberation Sans" font-weight="bold" font-size="12" fill="#111" text-anchor="end" letter-spacing="-0.4">100%</text><text x="1122.6" y="1608.5" font-family="Liberation Sans" font-weight="bold" font-size="12" fill="#2a78b4" text-anchor="end" letter-spacing="-0.4">97%</text><text x="1122.6" y="1679.3" font-family="Liberation Sans" font-weight="bold" font-size="12" fill="#111" text-anchor="end" letter-spacing="-0.4">90%</text><text x="1122.6" y="1781.7" font-family="Liberation Sans" font-weight="bold" font-size="12" fill="#111" text-anchor="end" letter-spacing="-0.4">80%</text><text x="1122.6" y="1832.3" font-family="Liberation Sans" font-weight="bold" font-size="12" fill="#111" text-anchor="end" letter-spacing="-0.4">0%</text><text x="1170.2" y="1842" font-family="Liberation Sans" font-weight="bold" font-size="13" fill="#111" text-anchor="middle" letter-spacing="-0.35">1 years</text><text x="1306.3" y="1842" font-family="Liberation Sans" font-weight="bold" font-size="13" fill="#111" text-anchor="middle" letter-spacing="-0.35">5 years</text><text x="1472" y="1842" font-family="Liberation Sans" font-weight="bold" font-size="13" fill="#111" text-anchor="middle" letter-spacing="-0.35">10 years</text><text x="1642" y="1842" font-family="Liberation Sans" font-weight="bold" font-size="13" fill="#111" text-anchor="middle" letter-spacing="-0.35">15 years</text><text x="1813.4" y="1842" font-family="Liberation Sans" font-weight="bold" font-size="13" fill="#111" text-anchor="middle" letter-spacing="-0.35">20 years</text><text x="1983.5" y="1842" font-family="Liberation Sans" font-weight="bold" font-size="13" fill="#111" text-anchor="middle" letter-spacing="-0.35">25 years</text><text x="1943.7" y="1595" font-family="Liberation Sans" font-weight="bold" font-size="13" fill="#111" text-anchor="end" letter-spacing="-0.5">ISOLA Solar Linear Performance Warranty</text><rect x="1949.4" y="1584.4" width="22.2" height="10.6" fill="#2a7fc0"/><text x="1942" y="1614.6" font-family="Liberation Sans" font-weight="bold" font-size="13" fill="#111" text-anchor="end" letter-spacing="-0.5">Standard Warranty</text><rect x="1949.4" y="1605.2" width="22.2" height="10.5" fill="#a9a9a9"/><text x="1258.1" y="1610.2" font-family="Liberation Sans" font-size="28.5" fill="#2b76ae" stroke="#2b76ae" stroke-width="0.9" transform="rotate(11.4 1258.1 1610.2)" textLength="571" lengthAdjust="spacingAndGlyphs">Additional Value from ISOLA Linear Warranty</text></svg>
</body></html>
